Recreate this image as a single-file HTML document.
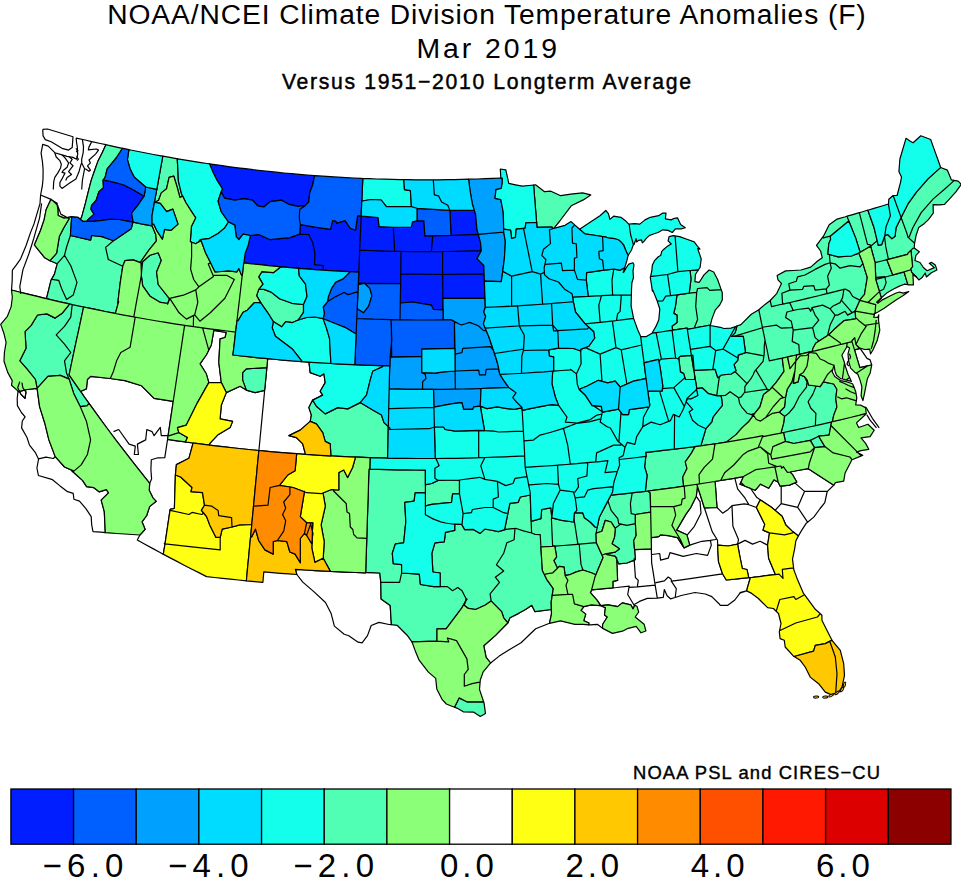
<!DOCTYPE html>
<html><head><meta charset="utf-8"><title>NOAA/NCEI Climate Division Temperature Anomalies</title>
<style>
html,body{margin:0;padding:0;background:#fff;}
svg{display:block;}
text{font-family:"Liberation Sans",sans-serif;fill:#000;}
</style></head><body>
<svg width="961" height="879" viewBox="0 0 961 879">
<rect width="961" height="879" fill="#fff"/>
<text x="107.2" y="24.4" font-size="28.2" textLength="758.5" lengthAdjust="spacing">NOAA/NCEI Climate Division Temperature Anomalies (F)</text>
<text x="416.4" y="58.3" font-size="28.4" textLength="140.6" lengthAdjust="spacing">Mar 2019</text>
<text x="282" y="88.6" font-size="21.2" textLength="409" lengthAdjust="spacing" stroke="#000" stroke-width="0.45">Versus 1951−2010 Longterm Average</text>
<g stroke="#000" stroke-width="1.2" stroke-linejoin="round"><path fill="#ffffff" d="M42.7 144.4L41.1 153.2L42.5 162.1L43.1 169.5L43.0 179.2L42.3 186.2L40.6 195.0L50.4 199.1L50.9 199.4L51.0 199.1L52.4 200.4L56.9 203.2L57.1 204.9L57.7 205.4L60.8 214.1L67.2 217.6L71.1 216.9L71.7 216.9L77.8 217.3L80.2 219.2L81.6 217.4L85.4 203.3L88.5 190.8L91.2 180.4L94.1 172.0L97.8 161.6L102.0 153.3L105.9 144.7L100.3 143.5L92.8 141.8L85.2 140.0L76.2 138.1L76.5 142.1L77.3 146.8L77.5 150.3L77.7 150.5L77.5 150.7L77.7 154.1L77.1 157.1L76.6 159.2L73.0 157.4L67.1 156.3L62.0 154.9L54.8 152.7L48.2 146.1ZM57.1 204.9L57.9 209.4L58.1 215.5L64.1 218.1L67.2 217.6L60.8 214.1L57.7 205.4ZM50.0 260.7L44.8 257.8L38.5 250.1L34.4 244.9L40.6 230.3L44.1 219.9L46.2 209.5L50.9 199.4L50.4 199.1L40.6 195.0L40.0 203.7L37.3 212.7L34.0 223.9L30.5 232.6L26.0 245.8L20.6 258.8L16.4 264.9L12.4 270.1L12.3 272.8L12.2 280.6L11.5 290.0L19.2 292.0L20.6 292.3L27.8 294.1L36.3 296.2L44.9 298.3L46.5 298.7L46.8 297.4L51.0 280.3L51.7 279.1L54.5 274.1L57.3 263.7L52.6 261.8ZM18.0 391.6L17.2 398.5L17.4 405.6L21.4 412.5L25.1 416.9L22.3 421.0L21.6 427.9L27.0 437.5L29.5 445.1L35.2 452.3L38.5 458.9L46.0 457.1L53.3 458.5L55.3 456.7L55.2 456.6L48.9 439.9L44.8 423.2L39.6 406.6L37.1 388.3L27.1 389.5L24.6 390.1L26.0 392.0L25.0 398.3L20.8 394.1L19.4 391.3ZM38.5 458.9L38.6 459.0L36.9 468.0L38.4 475.5L52.5 479.7L60.0 485.9L67.6 491.7L73.2 493.3L73.9 499.3L79.5 501.1L85.9 508.6L91.2 516.7L91.7 525.0L93.0 531.6L100.9 532.2L105.3 532.6L104.3 511.6L101.2 500.2L108.5 492.9L106.4 489.7L99.1 491.8L93.9 487.7L86.6 486.6L82.5 480.4L72.0 471.0L72.3 470.4L64.5 467.0L55.3 456.7L53.3 458.5L46.0 457.1ZM24.6 390.1L19.4 391.3L20.8 394.1L25.0 398.3L26.0 392.0ZM139.9 535.0L137.3 540.0L144.9 544.2L152.5 548.4L160.1 552.5L163.1 554.1L163.5 553.2L165.0 543.8L164.2 543.7L165.0 543.8L170.0 510.3L170.2 509.3L174.4 508.3L175.4 475.0L176.4 464.6L188.9 458.3L193.1 443.0L186.6 442.1L185.4 441.9L177.1 440.8L167.6 439.4L166.6 445.6L164.8 457.6L158.0 457.8L151.3 459.8L150.9 469.5L151.6 478.9L149.7 483.3L149.2 490.2L152.9 497.8L156.2 501.3L149.6 506.6L146.7 515.5L142.0 521.8L145.1 529.3ZM296.8 574.5L302.8 582.1L314.1 591.9L325.5 602.5L331.0 613.2L334.4 626.1L344.2 634.3L348.8 635.8L358.1 642.2L362.1 642.9L367.5 635.6L371.2 625.5L379.0 622.4L389.0 624.5L391.4 624.7L390.2 605.5L381.1 599.0L380.8 582.9L380.8 582.4L379.8 573.0L365.7 572.4L365.6 572.9L365.3 572.9L355.3 572.5L345.3 572.1L335.3 571.7L330.4 571.4L325.3 571.2L315.4 570.6L305.4 570.0L295.4 569.3ZM490.6 663.0L499.2 656.1L509.2 649.8L521.1 642.8L529.9 634.2L535.7 628.7L549.5 623.3L551.5 613.8L551.4 609.5L551.3 609.5L534.9 611.6L531.8 605.3L525.5 609.5L518.2 613.6L509.9 617.8L507.9 622.8L507.8 623.0L507.8 622.9L507.7 623.0L495.5 635.4L483.8 645.8L486.1 657.3ZM588.7 624.8L590.2 624.9L597.3 624.3L602.6 628.3L602.6 624.5L607.3 617.0L604.5 615.1L605.4 607.6L600.7 605.7L591.3 604.8L583.8 606.6L581.0 610.4L585.7 614.1L583.8 620.7L588.9 623.0ZM634.7 605.2L633.8 604.8L627.7 594.5L629.0 587.3L629.2 586.2L616.7 587.5L612.9 587.8L604.2 588.7L591.6 589.8L591.3 590.7L590.4 592.6L597.0 600.1L600.7 605.7L608.2 604.8L617.6 606.6L622.3 602.9L630.8 604.8L633.0 608.9ZM633.8 604.8L639.5 601.4L647.3 598.4L657.3 598.1L655.5 587.1L655.2 585.1L637.3 586.9L629.0 587.3L627.7 594.5ZM655.2 585.1L654.8 582.8L653.6 574.9L651.6 562.7L651.5 554.5L651.4 552.7L651.4 548.8L634.6 549.6L635.3 558.7L635.4 559.6L634.2 560.1L635.4 577.5L638.3 580.4L637.3 586.9ZM612.9 587.8L616.7 587.5L629.2 586.2L629.0 587.3L637.3 586.9L638.3 580.4L635.4 577.5L634.2 560.1L627.0 563.0L618.7 563.8L616.7 559.5L617.6 580.4L612.9 581.3ZM634.2 560.1L635.4 559.6L635.3 558.7L634.1 558.8ZM657.3 598.1L657.3 598.1L663.3 597.4L664.3 589.6L667.1 595.7L670.5 598.8L675.0 597.5L675.2 597.5L676.3 588.7L671.6 581.7L671.3 581.2L671.5 581.2L671.0 578.9L668.2 577.0L664.4 580.8L656.1 582.6L654.8 582.8L655.2 585.1L655.5 587.1ZM671.5 581.2L681.5 579.8L691.8 578.4L702.0 576.9L712.2 575.4L722.5 573.8L718.5 561.6L717.9 551.1L717.7 545.1L717.5 540.2L716.6 538.7L715.5 539.5L710.4 540.4L711.3 545.1L707.6 555.4L696.3 553.5L683.2 556.3L670.0 552.6L668.2 558.2L660.6 560.1L659.7 553.5L651.8 554.5L651.5 554.5L651.6 562.7L653.6 574.9L654.8 582.8L656.1 582.6L664.4 580.8L668.2 577.0L671.0 578.9ZM716.6 538.7L712.2 531.6L709.1 522.2L706.0 512.7L704.5 508.2L702.9 503.2L699.9 493.8L697.4 486.2L696.3 496.3L700.1 501.9L701.0 513.2L694.4 526.3L687.9 534.2L686.9 534.8L689.7 545.1L701.9 541.3L710.4 540.4L715.5 539.5ZM651.2 537.6L651.3 542.7L651.4 548.8L651.4 552.7L651.5 554.5L651.8 554.5L659.7 553.5L660.6 560.1L668.2 558.2L670.0 552.6L683.2 556.3L696.3 553.5L707.6 555.4L711.3 545.1L710.4 540.4L701.9 541.3L689.7 545.1L684.1 547.9L677.5 537.6L668.2 535.7L660.6 534.8L658.8 536.6L651.5 537.6ZM696.3 496.3L690.7 507.5L686.0 514.1L676.6 530.1L686.9 534.8L687.9 534.2L694.4 526.3L701.0 513.2L700.1 501.9ZM675.2 597.5L681.2 595.5L695.0 592.5L705.3 594.0L711.8 596.6L719.0 603.7L720.3 605.4L727.5 605.4L734.8 600.0L739.8 593.3L745.4 591.3L746.7 590.9L746.7 590.9L747.4 587.9L750.4 577.5L748.7 577.7L743.9 578.2L735.1 579.2L726.3 580.0L722.5 573.8L712.2 575.4L702.0 576.9L691.8 578.4L681.5 579.8L671.5 581.2L671.6 581.7L676.3 588.7ZM745.4 591.3L740.0 592.6L745.6 591.2ZM760.5 500.0L756.9 497.6L750.6 488.5L744.8 486.2L744.6 486.0L740.0 484.2L740.9 482.3L743.5 476.6L734.8 478.1L737.6 488.8L745.1 498.2L748.9 504.7L756.4 507.5L759.2 501.9ZM750.6 488.5L750.4 488.2L744.6 486.0L744.8 486.2ZM734.8 478.1L733.9 478.3L724.3 479.9L720.7 480.5L715.1 481.4L715.1 481.5L717.0 507.5L722.6 513.2L728.2 509.4L732.0 505.7L744.2 503.8L748.9 504.7L745.1 498.2L737.6 488.8ZM704.5 508.2L706.0 512.7L709.1 522.2L712.2 531.6L716.6 538.7L717.5 540.2L717.7 545.1L718.1 545.1L728.2 546.0L737.6 544.1L738.5 539.5L732.9 526.3L732.0 505.7L728.2 509.4L722.6 513.2L717.0 507.5L705.3 507.9ZM748.7 577.7L750.4 577.5L752.6 577.3L761.4 576.3L770.2 575.2L775.2 574.6L775.2 574.0L768.6 558.2L767.6 545.1L760.1 541.3L752.6 544.1L745.1 540.4L737.6 544.1L739.5 554.5L742.3 568.5L747.0 569.5ZM748.9 504.7L744.2 503.8L732.0 505.7L732.9 526.3L738.5 539.5L737.6 544.1L745.1 540.4L752.6 544.1L760.1 541.3L767.6 545.1L769.5 532.9L763.0 530.1L764.8 524.4L756.4 507.5ZM781.2 503.6L781.2 486.1L780.2 486.2L778.1 482.0L773.9 479.9L768.7 488.3L760.4 484.1L755.2 490.3L750.6 488.5L756.9 497.6L760.5 500.0L771.5 507.3L775.1 510.4ZM804.5 491.4L827.4 491.4L833.7 485.3L833.8 485.2L821.4 477.2L808.3 468.7L808.1 468.6L797.8 470.5L789.9 472.0L792.6 474.7L796.8 482.0L794.8 482.9ZM797.7 507.3L781.2 503.6L775.1 510.4L782.1 516.3L785.8 525.0L791.9 530.9L793.4 532.1L798.4 535.9L801.8 530.1L806.3 523.2L807.6 522.2ZM804.5 491.4L797.7 507.3L807.6 522.2L814.0 516.9L820.1 508.5L824.8 502.7L827.2 491.5L827.4 491.4ZM804.5 491.4L794.8 482.9L789.5 485.1L781.2 486.1L781.2 503.6L797.7 507.3ZM871.7 365.0L870.1 359.9L867.0 358.4L863.9 353.8L860.3 348.7L860.1 348.4L854.5 349.8L854.5 349.9L857.2 358.8L859.8 367.6ZM881.3 297.8L876.6 302.1L877.9 303.2L878.8 302.5L877.9 301.6L881.5 298.2ZM80.8 391.7L84.3 396.8L89.0 403.3L92.1 407.7L100.0 418.6L108.0 429.5L116.1 440.3L124.4 451.1L132.7 461.9L141.2 472.6L149.7 483.3L151.6 478.9L150.9 469.5L151.3 459.8L158.0 457.8L164.8 457.6L166.6 445.6L167.6 439.4L168.1 435.4L168.4 433.6L170.2 421.6L172.0 409.6L173.2 401.3L154.1 398.3L141.6 385.8L124.9 380.6L110.3 378.5L90.6 376.4L87.4 379.5L86.4 388.9L82.0 390.8ZM209.4 445.1L215.2 445.8L224.7 446.9L234.3 448.0L243.8 449.0L253.4 450.0L258.9 450.5L260.0 439.1L261.1 427.6L262.2 416.1L263.3 404.6L264.4 393.2L264.6 390.4L255.1 392.6L246.3 390.1L240.1 386.3L226.3 392.6L221.3 405.1L220.1 418.9L232.6 421.4L230.1 427.6L217.6 435.1L209.6 443.6ZM213.8 330.3L211.3 345.0L206.3 355.0L200.0 363.8L206.3 373.8L208.8 382.6L221.3 382.6L218.8 362.5L220.1 338.8L225.1 337.5L226.3 332.5ZM258.9 450.5L262.9 450.9L272.5 451.8L282.1 452.6L291.7 453.4L296.6 453.7L301.3 454.1L305.5 454.4L302.7 443.9L296.4 437.6L288.9 435.6L300.2 430.1L310.2 421.4L311.4 415.1L308.9 407.6L312.7 400.1L322.7 395.1L320.2 391.3L325.2 382.6L323.9 373.8L320.2 376.3L310.2 372.6L309.0 362.1L302.5 361.7L301.8 361.6L293.8 361.0L285.1 360.3L276.4 359.5L267.7 358.7L266.8 367.6L266.6 370.2L265.5 381.7L264.6 390.4L264.4 393.2L263.3 404.6L262.2 416.1L261.1 427.6L260.0 439.1Z"/><path fill="#50ffb4" d="M80.2 219.2L82.7 221.3L87.4 221.3L87.4 220.3L94.1 214.1L91.0 209.5L91.6 205.4L96.2 200.2L98.9 191.8L103.5 187.7L103.1 180.4L103.2 180.1L103.1 180.0L103.3 180.0L105.1 177.3L107.2 168.9L112.4 162.7L116.6 157.5L122.5 148.3L115.5 146.8L107.9 145.2L105.9 144.7L102.0 153.3L97.8 161.6L94.1 172.0L91.2 180.4L88.5 190.8L85.4 203.3L81.6 217.4ZM46.5 298.7L53.5 300.3L62.1 302.3L69.3 303.9L70.7 304.2L72.2 304.6L79.3 306.1L83.6 307.0L87.9 307.9L96.5 309.7L105.1 311.5L113.8 313.2L115.4 313.5L115.4 313.3L117.9 304.3L117.6 304.2L118.0 301.3L120.3 282.4L122.8 266.2L108.3 259.5L105.6 247.4L113.5 240.8L102.0 236.6L91.6 235.5L90.6 240.1L70.4 235.5L66.6 247.0L64.5 255.3L70.8 265.7L77.0 282.4L73.3 294.9L66.6 299.5L61.8 289.1L58.7 280.3L52.0 279.3L51.7 279.1L51.0 280.3L46.8 297.4ZM141.0 262.9L140.9 261.6L148.9 250.1L156.4 240.8L155.8 234.7L152.1 225.8L143.8 224.3L135.5 222.7L133.0 222.2L131.2 228.7L113.5 240.8L105.6 247.4L108.3 259.5L122.8 266.2L124.9 260.7L133.2 259.9ZM71.7 216.9L71.1 216.9L67.2 217.6L69.1 218.7L63.5 228.3L59.3 236.6L56.6 253.2L50.0 260.7L57.3 263.7L64.5 255.3L66.6 247.0L70.4 235.5ZM64.5 255.3L57.3 263.7L54.5 274.1L51.7 279.1L52.0 279.3L58.7 280.3L61.8 289.1L66.6 299.5L73.3 294.9L77.0 282.4L70.8 265.7ZM71.5 363.5L73.9 352.2L76.3 340.9L78.8 329.6L81.2 318.3L83.6 307.0L83.6 307.0L79.3 306.1L72.2 304.6L72.2 304.6L70.8 317.1L64.5 326.4L56.2 334.8L64.5 344.1L70.8 352.5L64.5 360.8L66.0 369.5L66.6 373.3L69.1 379.1L73.9 394.1L80.2 406.6L87.0 405.8L89.0 403.3L84.3 396.8L80.8 391.7L76.7 385.8L69.1 374.8L70.4 368.9ZM72.2 304.6L70.7 304.2L69.3 303.9L69.1 304.6L62.5 312.9L55.2 318.1L46.8 313.9L37.5 315.0L31.2 325.4L25.0 331.6L26.0 348.3L19.8 360.8L27.1 369.1L35.4 379.5L37.1 388.3L47.9 376.4L60.4 375.4L69.1 379.1L66.6 373.3L64.5 360.8L70.8 352.5L64.5 344.1L56.2 334.8L64.5 326.4L70.8 317.1L72.2 304.6ZM391.4 624.7L397.1 625.3L407.1 635.2L411.9 641.9L437.0 641.2L437.0 628.9L446.1 628.9L461.7 608.1L465.2 602.0L466.2 599.1L462.0 590.7L457.8 587.6L452.6 590.7L447.4 586.6L440.2 586.6L433.9 586.6L420.4 584.5L419.3 574.1L401.6 573.0L399.6 582.4L380.8 582.4L380.8 582.9L381.1 599.0L390.2 605.5ZM454.5 707.2L456.9 708.1L463.3 711.8L473.8 712.2L480.3 716.5L485.5 713.6L484.1 703.3L483.6 701.8L478.3 701.8L466.9 701.8L459.1 697.9ZM551.4 609.5L551.2 602.2L552.2 595.4L553.3 588.6L546.7 579.3L544.5 574.8L542.4 570.5L541.6 558.5L540.9 547.0L540.9 546.5L540.2 534.6L535.1 534.4L531.6 533.0L523.4 530.9L515.5 528.3L515.0 528.4L514.1 539.7L506.8 542.8L503.7 553.3L496.4 564.7L503.7 571.0L495.3 577.2L499.5 582.4L490.1 593.9L491.2 601.1L501.6 611.6L503.7 617.8L507.8 622.9L507.9 622.8L509.9 617.8L518.2 613.6L525.5 609.5L531.8 605.3L534.9 611.6L551.3 609.5ZM515.0 528.4L506.0 529.4L504.9 529.7L498.4 531.6L490.6 530.0L484.8 529.1L480.2 533.4L473.3 529.4L464.7 529.6L462.0 524.9L461.7 524.3L454.7 524.1L454.7 524.7L454.7 530.4L445.4 532.4L444.3 541.8L434.9 542.8L431.8 553.3L432.9 572.0L440.2 573.0L440.2 586.6L447.4 586.6L452.6 590.7L457.8 587.6L462.0 590.7L466.2 599.1L466.9 599.0L465.2 602.0L464.1 605.3L468.3 608.4L475.5 609.5L484.9 605.3L491.2 601.1L490.1 593.9L499.5 582.4L495.3 577.2L503.7 571.0L496.4 564.7L503.7 553.3L506.8 542.8L514.1 539.7ZM425.4 492.9L425.4 485.0L425.4 484.6L425.4 470.1L416.1 470.0L406.9 469.9L397.6 469.8L388.3 469.6L379.0 469.4L369.8 469.1L369.0 469.1L368.6 480.6L368.3 492.2L367.9 503.7L367.5 515.2L367.1 526.7L366.8 538.3L366.8 538.3L366.4 549.8L366.0 561.3L365.7 572.4L379.8 573.0L380.8 582.4L399.6 582.4L401.6 573.0L401.6 564.7L393.3 563.7L392.3 553.3L395.4 543.9L403.7 542.8L405.8 522.0L404.8 502.3L414.1 501.2L415.2 492.9ZM595.9 574.7L599.1 567.1L603.1 557.4L602.1 555.2L596.5 543.0L596.4 542.7L596.4 542.7L585.3 543.7L579.3 544.2L579.2 544.2L581.0 564.4L582.9 570.0L591.3 572.8L595.8 574.7ZM579.2 544.2L574.3 544.6L563.1 545.5L554.8 546.1L556.6 556.9L553.8 560.6L557.5 568.2L559.4 566.3L564.1 567.2L565.1 575.7L569.7 574.7L576.3 571.9L582.9 570.0L581.0 564.4ZM650.7 512.1L650.5 506.6L650.5 503.0L650.2 493.0L648.1 491.0L648.1 491.0L647.3 491.1L645.5 491.3L637.6 492.2L631.9 492.9L632.0 494.1L630.4 503.6L631.2 513.7L635.4 514.5ZM631.9 492.9L627.9 493.4L618.3 494.4L610.9 495.2L608.9 498.9L607.9 500.9L611.1 510.3L617.8 518.7L618.7 523.7L627.0 525.4L635.4 523.7L635.4 514.5L631.2 513.7L630.4 503.6L632.0 494.1ZM620.8 524.1L618.7 523.7L617.8 518.7L611.1 510.3L607.9 500.9L604.5 507.4L599.3 517.2L597.2 527.5L596.1 533.3L601.9 531.2L605.3 520.3L611.1 522.0L615.1 528.3ZM615.1 528.3L615.3 528.7L614.5 537.1L612.0 543.8L619.5 548.8L615.3 552.1L605.3 553.8L607.0 554.6L615.3 556.3L616.1 558.1L616.7 557.8L616.7 559.5L618.7 563.8L627.0 563.0L634.2 560.1L634.1 558.8L635.3 558.7L634.6 549.6L633.7 540.4L636.2 535.4L635.4 523.7L627.0 525.4L620.8 524.1ZM831.6 421.9L830.9 422.1L821.2 424.3L815.7 425.6L811.6 426.5L801.9 428.6L792.2 430.7L783.5 432.5L785.4 441.4L793.7 443.5L810.3 440.4L818.7 436.2L829.1 435.2ZM818.7 436.2L810.3 440.4L814.5 447.7L824.9 446.6ZM754.6 413.5L754.7 413.3L759.9 407.0L763.6 394.4L768.9 390.3L767.3 389.2L744.5 392.5L741.2 396.9L738.6 397.8L739.6 403.5L742.2 407.7L747.0 413.2L751.5 414.6ZM767.3 389.2L755.8 369.9L754.6 371.3L753.2 374.7L750.6 379.2L744.9 386.4L744.8 392.0L744.5 392.5ZM767.3 389.2L768.9 390.3L770.4 389.2L776.2 382.4L784.0 371.4L782.4 359.4L782.6 358.1L778.5 358.9L769.3 360.8L766.7 348.0L765.0 340.0L764.3 345.9L764.2 353.6L763.1 361.4L755.8 369.9ZM780.9 433.1L782.5 432.7L783.5 432.5L792.2 430.7L801.9 428.6L811.6 426.5L815.7 425.6L815.4 424.3L815.9 413.3L810.7 408.0L808.1 401.8L812.8 394.4L815.9 386.6L816.0 386.0L808.6 385.0L807.0 379.8L804.4 376.6L807.0 381.9L806.5 387.1L799.2 396.5L794.0 407.0L788.7 413.3L784.5 416.4L783.5 423.7ZM815.7 425.6L821.2 424.3L830.9 422.1L831.6 421.9L832.6 421.7L832.5 421.1L833.7 415.4L836.9 407.0L835.8 398.6L836.9 389.2L833.7 384.0L823.3 381.9L820.1 386.6L816.0 386.0L815.9 386.6L812.8 394.4L808.1 401.8L810.7 408.0L815.9 413.3L815.4 424.3ZM785.6 397.0L784.5 407.0L779.3 412.2L784.5 416.4L788.7 413.3L794.0 407.0L799.2 396.5L806.5 387.1L807.0 381.9L804.4 376.6L800.0 374.7L799.7 374.5L798.1 381.9L793.4 383.4L795.0 370.4L791.9 381.9L787.2 389.2ZM870.6 246.2L870.3 244.8L867.5 244.4L864.7 233.5L861.9 222.7L859.3 212.7L851.9 214.8L847.0 216.2L848.8 221.0L855.6 237.9L859.8 251.3L860.3 252.3L870.5 246.2ZM847.0 216.2L844.5 217.0L837.1 219.1L829.2 224.8L823.6 235.9L822.5 237.3L823.2 237.9L830.3 236.2L848.8 221.0ZM822.5 237.3L816.5 245.3L820.6 251.0L822.3 257.8L817.9 260.8L810.7 267.1L801.0 270.0L793.3 270.5L785.6 270.9L777.1 275.5L778.0 279.8L781.5 283.5L776.7 293.6L770.2 300.5L771.5 306.6L780.7 304.5L782.9 304.1L782.5 302.5L781.9 293.2L790.0 290.1L788.8 283.8L796.3 281.3L797.5 276.9L805.0 275.0L815.1 269.4L825.1 264.4L830.1 262.8L829.4 254.8L829.5 254.5L827.9 254.1L828.8 243.8L830.7 239.1L830.6 239.0L830.3 236.2L823.2 237.9ZM782.9 304.1L790.0 302.5L799.2 300.4L808.4 298.2L817.6 296.0L826.8 293.7L827.1 293.6L826.9 293.1L826.3 288.8L815.1 290.1L813.8 285.7L803.8 286.3L802.5 289.4L790.0 290.1L781.9 293.2L782.5 302.5ZM827.1 293.6L836.0 291.4L843.9 289.3L845.2 289.0L849.6 291.4L852.7 296.5L859.7 300.1L864.5 294.4L867.3 277.5L863.1 264.1L862.2 264.4L860.1 266.9L850.1 265.7L840.1 268.2L835.1 263.8L830.1 262.8L831.3 268.2L827.6 276.3L829.4 285.1L826.3 288.8L826.9 293.1ZM858.9 253.1L851.4 256.0L838.2 256.9L829.5 254.5L829.4 254.8L830.1 262.8L835.1 263.8L840.1 268.2L850.1 265.7L860.1 266.9L862.2 264.4L863.1 264.1L862.6 262.5ZM830.1 262.8L825.1 264.4L815.1 269.4L805.0 275.0L797.5 276.9L796.3 281.3L788.8 283.8L790.0 290.1L802.5 289.4L803.8 286.3L813.8 285.7L815.1 290.1L826.3 288.8L829.4 285.1L827.6 276.3L831.3 268.2ZM881.3 297.8L881.7 297.5L886.7 293.1L893.1 289.3L899.4 286.1L904.4 284.2L907.9 284.7L906.9 281.4L904.0 271.8L895.7 274.2L887.4 276.5L884.9 277.1L886.1 282.9L883.6 289.2L879.9 291.0L879.3 291.2ZM884.9 277.1L875.7 279.4L878.6 288.8L879.3 291.2L879.9 291.0L883.6 289.2L886.1 282.9ZM916.4 277.0L918.8 279.9L922.1 277.6L925.2 273.0L926.4 277.0L931.4 272.7L936.9 270.0L935.3 264.9L931.7 262.4L929.3 263.2L934.3 267.6L927.1 270.7L923.4 267.5L920.0 262.5L914.9 260.5L915.9 255.3L919.3 251.8L914.2 248.1L914.2 248.0L912.8 248.3L910.9 250.3L912.6 266.5L910.7 268.9L910.9 269.7L911.7 272.4ZM886.9 259.7L883.7 260.5L881.8 261.0L875.1 262.7L875.7 277.3L876.6 277.3L884.8 276.6L884.9 277.1L887.4 276.5L892.8 275.0ZM875.7 277.3L875.7 279.4L884.9 277.1L884.8 276.6L876.6 277.3ZM914.2 248.0L914.6 243.2L908.4 237.6L907.9 237.2L906.9 233.3L903.2 223.2L901.1 217.5L901.0 217.7L896.0 227.8L895.1 236.2L891.8 238.7L887.6 234.5L884.8 235.8L884.7 236.5L884.6 237.0L885.7 246.4L888.4 259.3L898.0 256.8L907.6 254.3L908.1 253.1L910.9 250.3L912.8 248.3ZM914.6 243.2L914.7 242.8L916.0 235.8L918.7 227.6L924.4 223.4L928.4 219.6L933.3 213.1L933.1 204.6L939.3 204.9L944.5 204.4L949.6 198.9L955.9 191.8L961.2 184.4L958.2 181.1L954.3 180.4L944.8 189.0L933.0 199.1L921.2 212.6L912.8 227.8L909.4 236.5L908.4 237.6ZM954.3 180.4L951.3 179.8L947.3 170.1L940.7 167.5L940.4 167.6L928.0 178.9L916.2 192.4L907.8 204.2L901.1 217.5L903.2 223.2L906.9 233.3L907.9 237.2L908.4 237.6L909.4 236.5L912.8 227.8L921.2 212.6L933.0 199.1L944.8 189.0ZM877.2 240.7L874.1 227.8L867.9 210.2L866.6 210.5L859.3 212.7L859.3 212.7L861.9 222.7L864.7 233.5L867.5 244.4L870.3 244.8L870.6 246.2L870.6 246.2ZM870.6 246.2L875.1 262.7L881.8 261.0L883.7 260.5L888.4 259.3L885.7 246.4L884.6 237.0L884.7 236.5L884.5 236.5L881.7 244.6L878.3 245.4L877.2 240.7ZM789.7 302.6L782.9 304.1L780.7 304.5L771.5 306.6L770.2 300.5L770.2 300.5L765.0 304.4L758.8 309.7L761.3 322.2L762.4 327.3L764.0 327.0L776.3 325.1L781.3 328.2L791.5 327.6L792.6 327.4L791.3 321.3L785.6 317.6L786.9 312.0L793.2 310.5ZM793.2 310.5L797.5 309.5L808.8 308.2L810.7 311.3L811.9 307.6L822.6 305.1L830.1 308.8L832.6 306.3L840.1 302.6L842.6 297.6L843.9 289.3L836.0 291.4L827.1 293.6L826.8 293.7L817.6 296.0L808.4 298.2L799.2 300.4L790.0 302.5L789.7 302.6ZM762.4 327.3L764.0 335.1L765.0 340.0L766.7 348.0L769.3 360.8L778.5 358.9L782.6 358.1L787.4 357.0L787.6 357.0L787.7 356.9L796.6 355.0L796.7 354.9L799.5 354.3L798.8 344.5L792.2 341.4L793.2 330.1L792.6 327.4L791.5 327.6L781.3 328.2L776.3 325.1L764.0 327.0ZM799.5 354.3L805.9 352.9L813.0 351.2L812.5 349.2L815.7 343.2L818.7 341.3L817.8 339.9L815.1 337.6L812.6 327.6L793.2 330.1L792.2 341.4L798.8 344.5ZM856.3 318.1L855.6 317.3L855.1 311.1L847.6 315.1L845.1 311.3L837.6 315.1L835.1 315.1L830.1 325.1L827.6 335.4L827.7 335.5L828.8 334.8L835.4 328.2L843.9 320.7L855.5 318.8ZM841.3 300.1L840.1 302.6L832.6 306.3L830.1 308.8L835.1 315.1L837.6 315.1L845.1 311.3L847.6 315.1L852.2 312.6ZM852.2 312.6L855.1 311.1L855.1 311.0L860.0 300.3L859.7 300.1L852.7 296.5L849.6 291.4L845.2 289.0L843.9 289.3L842.6 297.6L841.3 300.1ZM818.7 341.3L827.7 335.5L827.6 335.4L830.1 325.1L835.1 315.1L830.1 308.8L822.6 305.1L811.9 307.6L815.1 315.1L818.8 320.1L812.6 327.6L815.1 337.6L817.8 339.9ZM811.9 307.6L810.7 311.3L808.8 308.2L797.5 309.5L786.9 312.0L785.6 317.6L791.3 321.3L792.6 327.4L793.2 330.1L812.6 327.6L818.8 320.1L815.1 315.1ZM719.4 376.4L717.8 377.7L715.1 369.3L694.2 370.3L694.5 374.5L694.8 376.5L696.8 388.6L702.1 387.8L708.5 393.7L716.7 395.7ZM745.5 352.4L745.5 352.6L738.2 355.1L737.7 360.4L734.0 364.6L736.0 370.8L734.9 371.5L747.0 383.7L750.6 379.2L753.2 374.7L754.6 371.3L763.1 361.4L763.9 355.8ZM734.9 371.5L731.3 374.0L721.4 375.0L719.4 376.4L716.7 395.7L717.1 395.8L720.0 395.7L725.3 395.5L730.1 391.7L738.6 397.8L741.2 396.9L744.8 392.0L744.9 386.4L747.0 383.7ZM733.9 336.4L743.3 336.4L745.5 352.4L763.9 355.8L764.2 353.6L764.3 345.9L765.0 340.0L764.0 335.1L762.5 327.8ZM762.5 327.8L762.4 327.3L761.3 322.2L758.8 309.7L751.3 314.3L740.9 324.6L736.9 326.0L735.2 332.7L731.5 336.4L733.9 336.4ZM693.8 370.3L694.5 374.5L694.2 370.3ZM710.4 325.0L711.8 319.4L713.6 314.4L715.4 309.8L719.7 305.0L722.3 299.9L722.3 292.8L721.2 289.6L709.8 290.4L707.0 287.6L697.6 288.5L696.7 292.3L695.7 306.4L697.6 319.5L694.8 326.5L695.1 327.9L702.6 326.5L710.2 325.1ZM721.2 289.6L717.6 279.5L713.7 272.0L709.1 270.0L704.0 274.9L699.3 282.3L694.9 281.6L695.4 274.5L698.3 270.0L698.0 269.8L690.1 270.5L690.1 270.7L691.0 279.2L689.2 293.2L696.7 292.3L697.6 288.5L707.0 287.6L709.8 290.4ZM672.6 330.2L678.3 329.4L687.1 328.0L687.3 329.4L694.9 328.0L695.1 327.9L694.8 326.5L697.6 319.5L695.7 306.4L696.7 292.3L689.2 293.2L677.1 294.9L677.0 294.9L675.4 306.7L673.7 313.4L677.0 315.1L677.0 322.6L672.0 326.3ZM694.5 374.5L693.8 370.3L692.9 364.4L691.4 355.3L680.4 356.1L678.7 357.7L680.4 371.9L683.7 373.6L685.4 379.5L694.9 379.5ZM553.8 228.3L559.8 221.0L571.2 205.8L583.3 199.9L590.7 194.9L582.6 192.9L570.8 194.1L560.7 195.7L550.9 191.2L544.6 191.7L535.5 184.8L533.6 185.0L536.6 222.5L537.0 222.5L536.6 222.5L537.0 227.4L552.0 227.0L552.6 228.8ZM177.6 158.8L176.4 158.6L168.7 157.2L162.8 156.2L160.8 167.2L158.6 179.4L156.8 189.3L156.4 191.5L154.4 202.2L154.5 202.2L155.1 202.3L155.1 202.2L158.6 200.2L161.3 192.9L166.6 188.7L169.1 177.3L173.8 176.2L177.0 186.6L179.9 197.4L182.6 196.1L181.6 194.1L178.4 181.1L177.9 170.3L177.3 159.5ZM141.0 262.9L141.4 273.7L142.4 263.4ZM141.4 273.7L141.4 274.7L141.3 275.7L142.7 285.8L150.0 296.2L160.4 302.4L167.7 303.5L169.5 298.9L169.6 298.9L158.2 284.5L156.6 272.0L161.3 260.5L158.2 252.8L149.9 255.3L142.4 262.0L142.5 263.5L142.4 263.4ZM264.6 390.4L265.5 381.7L266.6 370.2L266.8 367.6L246.3 368.8L242.6 372.6L242.6 380.1L246.3 390.1L255.1 392.6ZM330.9 455.9L339.6 456.4L349.2 456.8L355.3 457.1L358.8 457.2L368.4 457.6L370.1 457.6L378.0 457.9L387.6 458.1L387.9 446.6L388.1 435.1L388.3 426.6L384.0 422.6L381.5 415.1L372.7 410.1L360.2 402.6L347.7 408.9L337.7 407.6L325.2 413.9L316.4 406.3L312.7 400.1L308.9 407.6L311.4 415.1L310.2 421.4L316.4 423.9L322.7 432.6L325.2 441.4L330.2 443.9ZM425.4 484.6L425.4 485.0L425.4 492.9L425.4 499.9L425.4 505.8L425.8 505.8L431.8 504.3L451.6 502.3L452.6 493.9L459.5 493.9L459.5 480.0L438.1 480.4L431.8 483.5L425.8 484.6ZM504.9 529.7L506.0 529.4L515.0 528.4L515.5 528.3L523.4 530.9L531.6 533.0L531.2 522.8L531.2 521.2L530.9 512.7L530.5 502.5L530.3 495.0L520.3 497.0L518.2 502.3L509.9 503.3L507.8 513.7L504.7 529.1ZM258.7 289.4L256.6 295.6L260.8 302.9L268.1 313.3L273.3 321.6L281.6 326.8L285.8 321.6L292.0 322.7L298.3 320.0L303.5 312.3L303.5 304.5L292.0 303.3L279.5 298.7L271.2 292.1L263.9 289.4ZM531.6 533.0L535.1 534.4L540.2 534.6L540.9 546.5L540.9 547.0L552.0 546.3L552.6 546.2L552.6 545.8L551.4 518.7L551.8 517.8L550.9 507.8L541.7 509.5L540.9 518.7L531.9 521.2L531.2 521.2L531.2 522.8ZM573.9 518.1L573.5 522.0L561.8 520.3L551.8 517.8L551.4 518.7L552.6 545.8L552.6 546.2L554.8 546.1L563.1 545.5L574.3 544.6L577.9 544.3ZM577.9 544.3L579.2 544.2L579.3 544.2L585.3 543.7L596.4 542.7L596.4 542.7L596.0 533.7L596.1 533.3L597.2 527.5L595.1 527.0L590.2 522.0L584.4 517.8L582.7 512.8L574.4 512.8L573.9 518.1ZM700.9 445.8L702.2 445.7L710.3 444.5L715.0 443.8L718.3 443.4L726.4 442.1L736.0 434.6L742.2 427.6L748.6 421.8L753.5 415.2L747.0 413.2L742.2 407.7L739.6 403.5L738.6 397.8L730.1 391.7L725.3 395.5L720.0 395.7L721.4 397.1L722.4 405.4L716.3 412.8L713.1 417.0L711.7 422.0L705.9 428.7L703.4 437.0L700.9 445.7ZM645.5 491.3L647.3 491.1L648.1 491.0L656.9 489.9L666.6 488.6L676.2 487.3L683.6 486.2L682.8 477.0L687.0 468.6L685.3 461.9L691.1 453.6L695.1 446.6L693.0 446.9L683.8 448.0L674.6 449.1L665.0 450.2L655.3 451.3L645.7 452.3L646.0 454.6L646.2 456.4L645.8 456.4L644.6 466.8L647.1 475.2L645.4 490.6Z"/><path fill="#001eff" d="M87.4 221.3L93.6 221.3L102.2 220.3L109.0 219.3L118.9 219.5L127.2 221.1L133.0 222.2L133.0 222.0L133.1 221.5L131.6 213.1L137.8 205.4L144.1 196.2L133.2 189.7L122.8 184.5L110.3 181.4L103.3 180.0L103.2 180.1L103.1 180.4L103.5 187.7L98.9 191.8L96.2 200.2L91.6 205.4L91.0 209.5L94.1 214.1L87.4 220.3ZM361.2 215.8L360.8 224.6L360.3 236.3L359.8 248.1L359.7 250.2L368.4 250.5L377.1 250.8L385.8 251.1L394.4 251.3L394.7 251.3L393.3 227.4L379.1 226.6L378.1 217.7L361.7 216.2L361.7 215.8ZM432.8 235.6L424.9 235.8L423.9 220.8L417.0 220.8L412.5 221.8L411.4 227.0L393.3 227.4L394.7 251.3L401.0 251.4L403.1 251.5L411.8 251.6L420.5 251.6L428.7 251.6L429.2 251.6L431.3 251.6ZM431.3 251.6L437.9 251.6L442.6 251.5L446.6 251.5L455.3 251.4L463.9 251.2L472.6 250.9L481.3 250.7L480.5 242.3L478.3 234.4L451.0 235.4L432.8 235.6ZM478.3 234.4L478.3 234.3L476.9 229.1L475.6 214.3L474.3 210.4L449.9 210.4L451.0 235.4ZM314.5 175.6L307.1 175.0L299.4 174.4L291.6 173.7L283.9 173.0L276.2 172.2L268.5 171.4L260.8 170.5L253.1 169.7L245.4 168.7L237.7 167.8L230.0 166.8L222.3 165.7L214.7 164.6L209.6 163.9L212.9 172.0L217.1 180.4L222.3 188.7L221.2 191.8L224.4 198.1L234.8 200.2L244.1 198.7L252.5 200.2L257.7 205.8L263.9 207.0L270.2 201.6L281.6 200.2L288.9 204.3L298.3 206.4L305.5 205.4L308.7 202.2L309.7 192.9L312.8 184.5L314.5 175.8ZM243.9 262.9L251.9 263.8L260.1 264.7L268.3 265.6L276.5 266.4L280.6 266.8L284.7 267.2L292.9 267.9L298.8 268.4L301.2 268.6L309.4 269.2L317.6 269.8L323.2 270.2L323.2 269.9L323.2 265.7L314.5 264.7L314.9 253.2L312.8 242.8L308.7 234.5L299.7 234.1L289.9 237.6L279.5 238.7L270.2 239.7L258.7 234.5L250.4 235.5L248.3 244.9L245.2 253.2ZM323.2 270.2L325.8 270.3L334.1 270.8L342.3 271.3L349.7 271.7L350.5 271.7L358.8 272.1L358.8 271.5L359.3 259.8L359.7 250.2L359.8 248.1L360.3 236.3L360.8 224.6L361.2 215.8L357.6 215.8L355.5 230.3L350.3 228.3L345.1 220.6L336.8 223.1L335.7 221.0L332.6 220.6L330.5 229.3L314.9 227.2L300.3 224.7L299.7 234.1L308.7 234.5L312.8 242.8L314.9 253.2L314.5 264.7L323.2 265.7L323.2 269.9ZM359.7 250.2L359.3 259.8L358.8 271.5L358.8 272.1L358.3 283.2L358.3 283.2L359.4 283.3L364.3 283.3L364.6 283.2L364.6 283.3L400.6 283.7L400.6 283.2L400.7 273.9L400.6 273.9L400.7 273.9L401.0 251.4L394.7 251.3L394.4 251.3L385.8 251.1L377.1 250.8L368.4 250.5ZM485.0 298.3L485.0 297.4L484.8 293.4L484.4 281.2L484.3 279.5L484.1 273.9L442.6 274.5L442.6 274.9L442.9 298.3ZM484.1 273.9L483.8 265.5L477.0 258.7L481.3 250.7L472.6 250.9L463.9 251.2L455.3 251.4L446.6 251.5L442.6 251.5L442.6 251.6L442.6 274.5ZM442.6 251.5L437.9 251.6L429.2 251.6L428.7 251.6L420.5 251.6L411.8 251.6L403.1 251.5L401.0 251.4L400.7 273.9L400.7 273.9L442.6 274.5L442.6 251.6ZM400.7 273.9L400.6 283.2L400.6 283.7L400.3 303.0L400.6 303.0L412.5 302.0L431.2 305.1L433.3 309.3L443.1 309.9L442.6 274.9L442.6 274.9L442.6 274.5Z"/><path fill="#00a0ff" d="M133.0 222.2L135.5 222.7L143.8 224.3L152.1 225.8L152.1 224.1L152.0 215.8L154.2 203.7L154.4 202.2L156.4 191.5L156.8 189.3L145.7 187.0L144.1 196.2L137.8 205.4L131.6 213.1L133.1 221.5L133.2 222.0L133.0 222.0ZM500.8 178.0L493.0 178.3L485.3 178.7L477.5 179.0L469.8 179.2L468.6 179.2L470.1 191.0L472.4 204.3L474.3 210.4L475.6 214.3L476.9 229.1L478.3 234.3L503.7 232.2L503.7 229.1L503.3 212.5L500.8 199.5L495.0 198.3L496.0 189.6L501.2 188.5L502.3 182.9L502.3 178.1ZM478.3 234.3L478.3 234.4L480.5 242.3L481.3 250.7L477.0 258.7L483.8 265.5L484.1 273.9L484.3 279.5L484.4 281.2L484.6 281.2L501.2 281.6L502.3 274.9L504.4 258.3L505.4 241.6L503.7 232.2ZM389.7 365.9L389.7 365.9L389.4 377.4L389.2 389.0L398.4 389.1L407.6 389.3L416.7 389.3L422.6 389.4L422.6 389.2L422.6 381.8L426.0 378.5L425.2 374.3L421.8 372.6L421.8 356.4L391.7 356.8L391.7 357.6L391.7 356.8L391.5 343.1L390.1 357.1L389.8 365.8ZM422.6 389.4L425.9 389.4L433.5 389.3L435.1 389.3L444.3 389.3L453.5 389.1L455.3 389.1L455.3 388.9L455.1 371.0L443.5 371.8L435.2 373.1L421.8 372.6L425.2 374.3L426.0 378.5L422.6 381.8L422.6 389.2ZM455.3 389.1L462.7 389.0L471.9 388.8L481.0 388.5L481.1 388.5L490.3 388.2L499.5 387.8L508.7 387.4L503.9 380.7L500.0 374.4L499.7 373.9L498.7 368.7L498.4 368.8L486.2 369.3L485.4 374.8L479.5 374.8L478.7 370.1L455.3 371.0L455.1 371.0L455.3 388.9ZM498.7 368.7L497.9 364.7L496.3 359.0L493.6 350.7L490.4 346.7L462.8 348.4L461.9 352.6L455.3 354.2L455.0 354.3L455.1 371.0L455.3 371.0L478.7 370.1L479.5 374.8L485.4 374.8L486.2 369.3L498.4 368.8ZM493.6 350.7L492.9 348.8L489.0 337.3L486.2 330.5L483.6 330.6L478.3 325.7L469.7 322.4L461.3 325.0L454.5 321.6L454.5 325.0L454.5 329.8L454.9 348.4L455.0 354.3L455.3 354.2L461.9 352.6L462.8 348.4L490.4 346.7ZM454.5 348.4L454.9 348.4L454.5 329.8ZM358.3 283.2L357.9 291.6L357.8 294.9L357.3 306.6L357.2 309.2L357.9 309.3L363.5 312.8L368.7 306.1L371.9 295.7L369.8 288.4L364.6 283.3L364.3 283.3L359.4 284.3L359.4 283.3ZM442.9 298.3L443.1 309.9L443.1 319.9L443.1 319.9L451.0 319.8L454.5 321.6L461.3 325.0L469.7 322.4L478.3 325.7L483.6 330.6L486.2 330.5L485.2 328.1L483.4 323.6L485.7 316.6L483.8 312.0L485.3 307.3L485.0 298.3ZM364.3 283.3L359.4 283.3L359.4 284.3ZM481.0 388.5L471.9 388.8L462.7 389.0L455.3 389.1L453.5 389.1L444.3 389.3L435.1 389.3L433.5 389.3L433.9 407.2L452.7 403.6L461.9 402.7L463.6 409.4L472.8 409.4L473.7 406.9L480.3 406.1L481.0 389.0Z"/><path fill="#14ffeb" d="M156.8 189.3L158.6 179.4L160.8 167.2L162.8 156.2L161.1 155.9L153.5 154.5L145.9 153.0L138.3 151.5L130.7 150.0L128.9 149.6L127.4 159.6L130.1 168.9L134.3 177.3L145.7 187.0ZM454.7 524.1L452.2 524.0L445.5 523.0L440.7 521.9L433.0 518.9L425.4 514.8L425.4 505.8L425.4 499.9L425.4 492.9L415.2 492.9L414.1 501.2L404.8 502.3L405.8 522.0L403.7 542.8L395.4 543.9L392.3 553.3L393.3 563.7L401.6 564.7L401.6 573.0L419.3 574.1L420.4 584.5L433.9 586.6L440.2 586.6L440.2 573.0L432.9 572.0L431.8 553.3L434.9 542.8L444.3 541.8L445.4 532.4L454.7 530.4L454.7 524.7ZM827.9 254.1L829.5 254.5L838.2 256.9L851.4 256.0L858.9 253.1L860.3 252.3L859.8 251.3L855.6 237.9L848.8 221.0L830.3 236.2L830.6 239.0L830.7 239.1L830.7 239.1L828.8 243.8ZM901.1 217.5L899.5 213.0L896.1 203.7L893.2 195.5L893.1 195.5L888.8 199.3L888.5 204.0L888.4 204.0L890.4 215.8L886.0 226.9L884.8 235.8L887.6 234.5L891.8 238.7L895.1 236.2L896.0 227.8L901.0 217.7ZM940.7 167.5L937.4 158.2L934.0 148.9L930.7 139.5L920.8 135.8L913.1 142.8L909.9 140.9L906.0 138.3L899.9 159.0L898.9 171.6L901.5 177.0L900.6 182.1L897.1 195.5L893.2 195.5L896.1 203.7L899.5 213.0L901.1 217.5L907.8 204.2L916.2 192.4L928.0 178.9L940.4 167.6ZM888.4 204.0L881.2 206.2L873.9 208.4L867.9 210.2L874.1 227.8L878.3 245.4L881.7 244.6L884.5 236.5L884.7 236.5L884.8 235.8L886.0 226.9L890.4 215.8ZM715.7 350.6L710.1 346.3L690.5 349.3L690.9 352.3L691.4 355.3L692.9 355.2L694.2 370.3L712.8 369.4ZM710.1 346.3L710.1 325.1L702.6 326.5L695.1 327.9L694.9 328.0L687.3 329.4L689.0 340.1L690.5 349.3ZM710.1 346.3L715.7 350.6L723.0 349.1L735.6 326.5L731.0 328.1L724.0 328.5L720.3 327.3L710.3 325.5L710.4 325.0L710.2 325.1L710.1 325.1ZM723.0 349.1L715.7 350.6L712.8 369.4L715.1 369.3L717.8 377.7L721.4 375.0L731.3 374.0L736.0 370.8L734.0 364.6L737.7 360.4L737.9 358.1ZM723.0 349.1L737.9 358.1L738.2 355.1L745.5 352.6L743.3 336.4L731.5 336.4L735.2 332.7L736.9 326.0L735.6 326.5ZM691.4 355.3L692.9 364.4L693.8 370.3L694.2 370.3L692.9 355.2ZM698.3 270.0L700.1 267.3L701.2 258.9L697.7 248.6L700.0 249.2L697.4 246.1L694.2 241.9L686.9 239.3L679.6 236.6L675.1 235.9L675.1 236.2L677.9 271.7L690.1 270.5L698.0 269.8ZM675.1 235.9L673.3 235.6L669.1 236.6L668.1 240.8L671.2 244.0L667.0 246.6L663.9 249.2L661.8 251.3L660.7 255.5L658.6 256.5L654.5 260.7L652.4 264.9L651.8 271.2L650.6 276.1L651.8 276.3L667.6 274.5L677.9 271.7L675.1 236.2ZM650.6 276.1L650.3 277.5L651.3 283.8L652.4 291.1L652.8 290.1L656.8 300.0L657.2 301.1L662.9 300.8L665.7 296.1L670.5 295.6L670.4 294.6L667.6 274.5L651.8 276.3ZM657.2 301.1L659.8 309.0L658.8 319.7L656.2 325.9L652.0 333.2L660.8 332.0L669.5 330.7L672.6 330.2L672.0 326.3L677.0 322.6L677.0 315.1L673.7 313.4L675.4 306.7L677.0 294.9L675.1 295.1L670.5 295.6L665.7 296.1L662.9 300.8ZM677.0 294.9L677.0 294.7L677.1 294.9L689.2 293.2L691.0 279.2L690.1 270.7L690.1 270.5L677.9 271.7L667.6 274.5L670.4 294.6L670.5 295.6L675.1 295.1ZM659.6 391.2L647.8 391.2L649.8 405.3L648.5 407.7L643.5 417.2L642.8 426.6L651.1 422.1L660.1 424.8L668.7 421.3ZM661.4 359.1L656.1 332.6L652.0 333.2L646.4 336.6L640.8 336.6L640.5 336.1L640.6 336.2L642.3 349.6L644.1 362.9L644.9 362.7L658.6 359.4L658.9 360.9ZM661.4 359.1L675.6 358.0L672.1 330.3L669.5 330.7L660.8 332.0L656.1 332.6ZM673.8 387.6L662.4 388.6L662.0 391.2L659.6 391.2L668.7 421.3L670.5 420.6L673.3 414.4L679.2 417.0L682.8 410.2L684.3 406.5ZM675.6 358.0L678.9 359.1L678.7 357.7L680.4 356.1L691.4 355.3L690.9 352.3L689.0 340.1L687.3 329.4L687.1 328.0L678.3 329.4L672.6 330.2L672.1 330.3ZM658.9 360.9L660.3 368.6L662.8 386.2L662.4 388.6L673.8 387.6L684.9 377.8L683.7 373.6L680.4 371.9L678.9 359.1L675.6 358.0L661.4 359.1ZM673.8 387.6L684.3 406.5L686.2 401.8L686.1 401.7L687.0 398.4L696.6 389.5L696.4 388.7L696.8 388.6L694.8 376.5L694.5 374.5L694.9 379.5L685.4 379.5L684.9 377.8ZM686.2 401.8L687.5 398.7L691.1 398.9L697.9 395.5L696.6 389.5L687.0 398.4L686.1 401.7ZM600.1 354.1L585.4 347.6L580.7 349.4L580.7 351.0L581.1 363.7L576.4 373.9L577.3 384.2L579.1 389.4L579.5 389.8L580.5 388.7L586.7 386.2L598.4 380.3L602.0 381.3ZM621.2 349.8L616.0 347.6L600.1 354.1L602.0 381.3L607.6 382.8L615.2 381.1L620.2 387.0L626.9 384.0ZM616.0 347.6L621.2 349.8L641.7 345.0L640.6 336.2L640.5 336.1L637.6 329.5L633.6 318.4L623.9 319.6L616.5 320.5L614.2 320.8L612.4 321.0ZM600.1 354.1L616.0 347.6L612.4 321.0L604.5 321.8L600.1 322.3L594.8 322.9L585.1 323.9L588.8 327.3L593.7 331.8L594.7 338.0L588.7 346.3L585.4 347.6ZM621.2 349.8L626.9 384.0L633.5 381.1L645.6 378.6L646.1 378.6L645.8 376.5L644.1 363.1L644.1 362.9L642.3 349.6L641.7 345.0ZM621.0 412.4L618.5 409.1L602.6 412.1L602.3 411.8L602.3 412.0L601.9 414.0L600.8 419.4L600.2 422.1L607.1 426.8L610.4 428.0L617.8 441.1L618.9 442.1ZM618.9 442.1L621.5 444.3L625.0 447.3L627.2 442.4L634.9 444.3L636.7 436.6L642.8 426.6L643.5 417.2L648.5 407.7L647.3 407.1L629.4 409.6L628.5 414.6L622.7 414.6L621.0 412.4ZM633.6 318.4L631.1 305.9L631.4 295.1L630.4 295.1L621.3 295.1L621.3 295.3L620.1 311.4L617.6 313.9L616.5 320.5L623.9 319.6ZM631.4 295.1L631.5 289.4L631.9 282.7L633.5 277.5L633.0 271.2L634.0 264.9L633.0 262.8L628.8 264.1L626.4 267.5L623.9 272.0L623.2 272.5L624.7 267.8L620.1 270.1L613.8 269.1L612.0 280.1L612.6 295.1L621.3 295.1L630.4 295.1ZM572.6 297.0L573.3 301.7L575.5 312.0L585.1 323.9L594.8 322.9L600.1 322.3L600.1 321.6L598.8 305.1L601.3 296.3L601.3 295.7L588.2 296.3ZM600.1 322.3L604.5 321.8L614.2 320.8L616.5 320.5L617.6 313.9L620.1 311.4L621.3 295.3L621.3 295.1L612.6 295.1L612.0 295.1L601.3 295.7L601.3 296.3L598.8 305.1L600.1 321.6ZM603.8 270.1L586.6 272.6L586.3 280.1L588.2 296.3L601.3 295.7L612.0 295.1L612.6 295.1L612.0 280.1L613.8 269.1ZM628.1 255.5L631.4 250.3L633.3 244.8L633.6 244.7L633.2 243.8L630.7 235.0L629.5 227.0L629.2 224.0L628.8 224.1L625.1 220.4L620.9 217.3L613.6 216.2L609.9 219.4L608.4 213.6L605.8 210.5L600.0 215.7L590.5 222.0L579.6 229.3L584.9 233.9L592.5 235.0L600.0 236.1L602.6 236.5L604.2 236.6L609.4 238.2L614.7 238.7L618.3 239.8L620.9 241.9L623.6 245.0L625.7 250.3ZM633.6 244.7L634.0 244.5L636.1 238.7L636.6 241.9L638.7 240.3L641.4 239.8L642.4 242.9L644.0 241.4L646.1 238.7L649.2 235.6L653.4 234.0L658.1 232.5L662.8 229.8L668.1 230.4L672.3 232.5L675.4 228.8L681.7 228.8L685.3 227.7L680.6 224.6L677.5 217.8L674.3 218.3L671.2 219.9L665.4 218.8L666.0 213.1L662.8 213.1L658.6 215.7L650.3 217.3L645.0 219.9L639.8 224.1L634.6 223.6L629.2 224.0L629.5 227.0L630.7 235.0L633.2 243.8ZM533.6 185.0L528.9 185.5L522.3 186.2L515.5 184.8L508.8 183.4L505.8 169.9L500.3 169.0L500.8 178.0L500.8 178.0L502.3 178.1L502.3 182.9L501.2 188.5L496.0 189.6L495.0 198.3L500.8 199.5L503.3 212.5L503.7 229.1L503.7 229.1L510.6 230.2L511.6 238.5L515.4 237.4L516.2 229.1L525.2 228.1L525.8 222.9L536.6 222.5ZM403.8 179.7L400.0 179.6L392.3 179.4L384.5 179.2L376.8 179.0L369.0 178.7L362.8 178.5L362.3 189.1L361.8 201.0L361.8 201.0L362.5 201.0L370.8 199.5L381.2 200.0L386.4 206.6L411.4 206.6L410.4 190.6L404.5 189.6ZM209.6 163.9L207.0 163.5L199.3 162.3L191.7 161.1L184.0 159.9L177.6 158.8L177.3 159.5L177.9 170.3L178.4 181.1L181.6 194.1L182.6 196.1L185.9 202.7L191.4 211.4L195.7 217.8L191.4 226.5L190.3 241.6L191.6 242.2L195.7 243.8L198.5 242.1L200.4 239.7L208.7 238.7L218.1 233.5L224.4 228.3L228.5 222.0L221.2 211.6L218.1 201.2L221.2 191.8L222.3 188.7L217.1 180.4L212.9 172.0ZM382.8 365.7L381.0 365.7L372.2 365.4L363.5 365.1L354.8 364.7L346.0 364.3L337.3 363.9L330.9 363.5L328.6 363.4L319.9 362.9L311.2 362.3L309.0 362.1L310.2 372.6L320.2 376.3L323.9 373.8L325.2 382.6L320.2 391.3L322.7 395.1L312.7 400.1L316.4 406.3L325.2 413.9L337.7 407.6L347.7 408.9L360.2 402.6L366.5 395.1L370.2 380.1L372.7 371.3L382.8 366.6ZM387.6 458.1L378.0 457.9L370.1 457.6L370.1 457.6L369.8 469.1L379.0 469.4L388.3 469.6L397.6 469.8L406.9 469.9L416.1 470.0L425.4 470.1L425.4 484.6L425.8 484.6L431.8 483.5L438.1 480.4L434.9 478.3L434.9 468.3L439.1 465.8L436.0 458.5L435.2 458.5L426.8 458.5L417.0 458.5L407.2 458.4L397.4 458.3ZM425.4 505.8L425.4 514.8L433.0 518.9L440.7 521.9L445.5 523.0L452.2 524.0L454.7 524.1L461.7 524.3L462.0 524.9L463.1 513.7L459.5 493.9L452.6 493.9L451.6 502.3L431.8 504.3L425.8 505.8ZM462.0 524.9L464.7 529.6L473.3 529.4L480.2 533.4L484.8 529.1L490.6 530.0L498.4 531.6L504.9 529.7L504.7 529.1L507.8 513.7L503.7 512.7L493.2 507.5L484.9 507.5L472.4 509.5L471.4 512.7L463.1 513.7ZM530.3 495.0L530.2 492.4L528.7 485.1L527.7 479.9L527.0 476.6L527.0 476.6L515.1 478.3L513.0 483.5L505.7 485.6L497.4 481.4L498.4 497.0L493.2 499.1L493.2 507.5L503.7 512.7L507.8 513.7L509.9 503.3L518.2 502.3L520.3 497.0ZM527.0 476.6L525.2 467.3L524.6 455.8L514.8 456.3L505.0 456.8L495.2 457.2L485.5 457.5L484.9 457.6L480.8 465.8L484.9 479.4L497.4 481.4L505.7 485.6L513.0 483.5L515.1 478.3L527.0 476.6ZM484.9 457.6L478.7 457.7L475.7 457.8L465.9 458.1L456.1 458.3L446.3 458.4L436.6 458.5L436.0 458.5L439.1 465.8L434.9 468.3L434.9 478.3L438.1 480.4L459.5 480.0L479.7 477.3L484.9 479.4L480.8 465.8ZM459.5 480.0L459.5 493.9L463.1 513.7L471.4 512.7L472.4 509.5L484.9 507.5L493.2 507.5L493.2 499.1L498.4 497.0L497.4 481.4L484.9 479.4L479.7 477.3ZM301.8 361.6L302.5 361.7L309.0 362.1L311.2 362.3L319.9 362.9L328.6 363.4L330.9 363.5L330.9 363.3L329.5 338.3L326.4 327.9L323.2 318.7L314.9 317.0L306.6 317.5L298.3 320.0L292.0 322.7L285.8 321.6L281.6 326.8L273.3 321.6L272.2 327.9L275.4 336.2L283.7 342.4L292.0 348.7L296.2 353.9L301.8 361.2ZM298.8 268.4L292.9 267.9L284.7 267.2L280.6 266.8L280.6 267.1L273.3 272.7L261.8 271.7L258.7 276.9L262.9 284.1L258.7 289.4L263.9 289.4L271.2 292.1L279.5 298.7L292.0 303.3L303.5 304.5L307.0 296.6L305.5 284.1L299.3 275.8L298.7 269.6ZM435.2 458.5L436.0 458.5L436.6 458.5L446.3 458.4L456.1 458.3L465.9 458.1L475.7 457.8L478.7 457.7L478.7 457.4L478.7 430.3L455.3 431.2L445.2 429.5L443.5 427.0L434.4 427.0L435.2 458.4ZM478.7 457.7L484.9 457.6L485.5 457.5L495.2 457.2L505.0 456.8L514.8 456.3L524.6 455.8L524.7 455.8L524.7 455.8L524.1 443.7L523.9 440.9L523.4 431.6L523.4 431.2L523.3 431.2L498.7 432.0L493.7 431.2L484.5 430.7L478.7 430.3L478.7 457.4ZM523.4 431.2L522.7 419.5L522.2 410.4L522.0 407.8L513.8 409.4L507.1 408.6L497.1 406.9L487.0 408.6L480.3 406.1L484.5 430.3L484.5 430.7L493.7 431.2L498.7 432.0L523.3 431.2ZM597.2 527.5L599.3 517.2L604.5 507.4L607.9 500.9L608.9 498.9L610.9 495.2L612.6 492.0L613.2 487.1L611.5 486.9L593.6 488.6L587.7 490.2L584.4 496.9L575.2 497.8L576.9 510.3L574.4 512.8L582.7 512.8L584.4 517.8L590.2 522.0L595.1 527.0ZM613.2 487.1L613.9 482.1L617.4 471.3L605.0 472.6L607.9 460.7L597.6 461.8L595.7 461.9L587.6 462.7L587.7 464.0L586.9 476.0L577.7 478.5L578.5 486.9L575.2 491.9L573.6 492.4L575.2 497.8L584.4 496.9L587.7 490.2L593.6 488.6L611.5 486.9ZM587.6 462.7L587.2 462.7L576.9 463.7L570.2 464.2L566.6 464.5L557.6 465.2L557.6 466.2L558.5 484.4L560.1 490.2L573.5 491.9L573.6 492.4L575.2 491.9L578.5 486.9L577.7 478.5L586.9 476.0L587.7 464.0ZM557.6 465.2L556.2 465.3L545.9 466.0L535.5 466.7L525.2 467.3L527.0 476.6L527.7 479.9L528.7 485.1L529.7 484.9L546.8 483.5L558.5 484.4L557.6 466.2ZM528.7 485.1L530.2 492.4L530.3 495.0L530.5 502.5L530.9 512.7L531.2 521.2L531.9 521.2L540.9 518.7L541.7 509.5L550.9 507.8L551.8 517.8L553.4 503.6L560.1 490.2L558.5 484.4L546.8 483.5L529.7 484.9ZM551.8 517.8L561.8 520.3L573.5 522.0L574.4 512.8L576.9 510.3L575.2 497.8L573.6 492.4L573.5 491.9L560.1 490.2L553.4 503.6ZM524.7 455.8L524.6 455.8L525.2 467.3L535.5 466.7L545.9 466.0L556.2 465.3L557.6 465.2L566.6 464.5L570.2 464.2L570.2 463.5L567.7 445.1L563.5 428.4L550.1 432.5L540.1 435.1L533.4 440.1L523.9 440.9L524.1 443.7L524.7 455.8ZM570.2 464.2L576.9 463.7L587.2 462.7L587.6 462.7L595.7 461.9L596.6 452.9L613.7 445.1L620.8 445.1L621.5 444.3L617.8 441.1L610.4 428.0L607.1 426.8L600.2 422.1L600.8 419.4L599.4 419.2L590.2 421.7L576.9 423.3L563.5 428.4L567.7 445.1L570.2 463.5ZM595.7 461.9L597.6 461.8L607.9 460.7L605.0 472.6L617.4 471.3L619.6 465.3L619.2 459.5L619.1 457.7L623.2 455.6L625.0 447.3L621.5 444.3L620.8 445.1L613.7 445.1L596.6 452.9ZM600.8 419.4L601.9 414.0L596.2 415.4L590.4 419.6L577.0 423.0L565.3 422.1L567.0 417.1L558.6 405.4L551.9 404.6L546.9 405.4L530.2 408.7L522.3 410.4L522.2 410.4L522.7 419.5L523.4 431.2L523.4 431.6L523.9 440.9L533.4 440.1L540.1 435.1L550.1 432.5L563.5 428.4L576.9 423.3L590.2 421.7L599.4 419.2ZM601.9 414.0L602.3 412.0L602.3 411.8L593.4 405.7L592.2 405.6L584.9 394.7L579.5 389.8L579.1 389.4L577.3 384.2L576.4 373.9L570.5 369.3L570.6 369.8L561.7 370.5L553.6 371.2L552.9 371.2L552.7 371.2L552.7 371.3L551.9 383.7L555.3 397.0L558.6 405.4L567.0 417.1L565.3 422.1L577.0 423.0L590.4 419.6L596.2 415.4ZM602.3 411.8L601.3 406.3L593.4 405.7ZM553.6 371.2L561.7 370.5L570.6 369.8L570.5 369.3L576.4 373.9L581.1 363.7L580.7 351.0L580.7 351.0L573.7 348.5L558.6 348.2L558.6 348.2L558.6 348.5L558.5 348.2L548.6 349.9L549.4 356.1L553.6 356.9ZM674.6 414.9L673.3 414.4L670.5 420.6L660.1 424.8L651.1 422.1L642.8 426.6L636.7 436.6L634.9 444.3L627.2 442.4L625.0 447.3L623.2 455.6L619.1 457.7L619.2 459.5L619.3 459.5L628.3 458.5L637.2 457.5L645.8 456.4L646.0 454.6L645.7 452.3L655.3 451.3L665.0 450.2L674.3 449.1ZM674.3 449.1L674.6 449.1L683.8 448.0L693.0 446.9L695.1 446.6L700.9 445.8L700.9 445.7L703.4 437.0L705.9 428.7L698.4 425.3L692.5 420.3L689.2 411.9L689.1 411.9L689.2 411.9L692.8 409.3L686.2 401.8L682.8 410.2L679.2 417.0L674.6 414.9ZM720.0 395.7L717.1 395.8L708.5 393.7L702.1 387.8L696.8 388.6L696.4 388.7L696.6 389.5L697.9 395.5L691.1 398.9L687.5 398.7L686.2 401.8L692.8 409.3L689.2 411.9L689.2 411.9L692.5 420.3L698.4 425.3L705.9 428.7L711.7 422.0L713.1 417.0L716.3 412.8L722.4 405.4L721.4 397.1ZM619.2 459.5L619.6 465.3L617.4 471.3L613.9 482.1L613.2 487.1L612.6 492.0L610.9 495.2L618.3 494.4L627.9 493.4L631.9 492.9L637.6 492.2L645.5 491.3L645.4 490.6L647.1 475.2L644.6 466.8L645.8 456.4L637.2 457.5L628.3 458.5L619.3 459.5Z"/><path fill="#0060ff" d="M128.9 149.6L123.1 148.4L122.5 148.3L116.6 157.5L112.4 162.7L107.2 168.9L105.1 177.3L103.3 180.0L110.3 181.4L122.8 184.5L133.2 189.7L144.1 196.2L145.7 187.0L134.3 177.3L130.1 168.9L127.4 159.6ZM133.0 222.2L127.2 221.1L118.9 219.5L109.0 219.3L102.2 220.3L93.6 221.3L87.4 221.3L82.7 221.3L80.2 219.2L77.8 217.3L71.7 216.9L70.4 235.5L90.6 240.1L91.6 235.5L102.0 236.6L113.5 240.8L131.2 228.7ZM417.0 208.3L417.0 220.8L423.9 220.8L424.9 235.8L451.0 235.4L449.9 210.4ZM362.8 178.5L361.3 178.4L353.5 178.0L345.8 177.6L338.0 177.2L330.3 176.7L322.6 176.2L314.8 175.6L314.5 175.6L314.5 175.8L312.8 184.5L309.7 192.9L308.7 202.2L305.5 205.4L299.7 209.5L299.3 217.8L300.3 224.7L314.9 227.2L330.5 229.3L332.6 220.6L335.7 221.0L336.8 223.1L345.1 220.6L350.3 228.3L355.5 230.3L357.6 215.8L361.2 215.8L361.3 212.8L361.8 201.0L361.8 201.0L362.3 189.1ZM305.5 205.4L298.3 206.4L288.9 204.3L281.6 200.2L270.2 201.6L263.9 207.0L257.7 205.8L252.5 200.2L244.1 198.7L234.8 200.2L224.4 198.1L221.2 191.8L218.1 201.2L221.2 211.6L228.5 222.0L234.8 225.1L236.2 236.6L238.9 239.7L243.1 234.1L250.4 235.5L258.7 234.5L270.2 239.7L279.5 238.7L289.9 237.6L299.7 234.1L300.3 224.7L299.3 217.8L299.7 209.5ZM356.1 334.1L356.3 329.9L356.8 318.5L356.8 318.2L357.2 309.2L357.3 306.6L357.8 294.9L357.9 291.6L348.2 294.6L344.1 292.5L335.7 296.6L327.4 301.8L323.2 307.0L324.3 313.3L323.2 318.7L335.7 323.7L346.1 327.9ZM357.9 291.6L358.3 283.2L358.3 283.2L358.8 272.1L350.5 271.7L349.7 271.7L349.7 272.3L343.0 278.9L335.7 282.1L331.6 288.3L328.4 296.6L327.4 301.8L335.7 296.6L344.1 292.5L348.2 294.6ZM354.8 364.7L363.5 365.1L372.2 365.4L381.0 365.7L382.8 365.7L389.7 365.9L389.8 365.8L390.1 357.1L391.5 343.1L391.4 330.0L391.4 329.5L391.1 323.3L391.0 319.6L382.4 319.4L373.9 319.2L365.3 318.8L356.8 318.5L356.3 329.9L356.1 334.1L355.8 341.5L355.3 353.1ZM454.5 321.6L451.0 319.8L443.1 319.9L442.4 319.9L433.8 320.0L425.3 320.0L416.7 320.0L408.1 319.9L400.0 319.8L399.6 319.8L391.0 319.6L391.0 319.6L391.1 323.3L391.4 323.3L391.4 329.5L391.8 340.3L391.5 343.1L391.7 356.8L391.7 356.8L421.8 356.4L421.8 349.2L454.4 348.4L454.5 348.4L454.5 329.8L454.4 325.0L454.5 325.0ZM391.4 329.5L391.4 323.3L391.1 323.3ZM391.4 329.5L391.4 330.0L391.5 343.1L391.8 340.3ZM357.2 309.2L356.8 318.2L356.8 318.5L365.3 318.8L373.9 319.2L382.4 319.4L391.0 319.6L391.0 319.6L399.6 319.8L400.0 319.8L400.3 303.0L400.6 283.7L364.6 283.3L369.8 288.4L371.9 295.7L368.7 306.1L363.5 312.8L357.9 309.3ZM400.0 319.8L408.1 319.9L416.7 320.0L425.3 320.0L433.8 320.0L442.4 319.9L443.1 319.9L443.1 319.9L443.1 309.9L433.3 309.3L431.2 305.1L412.5 302.0L400.6 303.0L400.3 303.0Z"/><path fill="#8cff78" d="M115.4 313.5L122.4 314.8L131.1 316.4L133.8 316.9L136.3 302.9L138.9 288.8L141.3 275.7L141.2 275.4L141.4 273.7L141.0 262.9L133.2 259.9L124.9 260.7L122.8 266.2L120.3 282.4L118.0 301.3L118.7 301.4L117.9 304.3L115.4 313.3ZM67.2 217.6L64.1 218.1L58.1 215.5L57.9 209.4L57.1 204.9L52.4 200.4L50.9 199.4L46.2 209.5L44.1 219.9L40.6 230.3L34.4 244.9L38.5 250.1L44.8 257.8L50.0 260.7L56.6 253.2L59.3 236.6L63.5 228.3L69.1 218.7ZM57.1 204.9L56.9 203.2L52.4 200.4ZM118.0 301.3L117.6 304.2L117.9 304.3L118.7 301.4ZM11.5 290.0L11.5 290.0L12.3 297.3L11.2 306.6L7.4 316.3L0.7 324.4L3.9 333.3L6.1 342.3L4.4 352.5L4.0 361.2L7.7 372.4L12.2 380.6L11.5 385.2L18.1 391.1L18.0 391.6L19.4 391.3L24.6 390.1L27.1 389.5L37.1 388.3L35.4 379.5L27.1 369.1L19.8 360.8L26.0 348.3L25.0 331.6L31.2 325.4L37.5 315.0L46.8 313.9L55.2 318.1L62.5 312.9L69.1 304.6L69.3 303.9L62.1 302.3L53.5 300.3L46.5 298.7L44.9 298.3L36.3 296.2L27.8 294.1L20.6 292.3L19.2 292.0ZM105.3 532.6L108.7 532.9L116.5 533.5L124.3 534.0L132.1 534.5L139.9 535.0L145.1 529.3L142.0 521.8L146.7 515.5L149.6 506.6L156.2 501.3L152.9 497.8L149.2 490.2L149.7 483.3L141.2 472.6L132.7 461.9L124.4 451.1L116.1 440.3L108.0 429.5L100.0 418.6L92.1 407.7L89.0 403.3L87.0 405.8L80.2 406.6L86.4 421.2L90.6 439.9L87.4 454.5L81.2 464.9L73.9 471.1L72.3 470.4L72.0 471.0L82.5 480.4L86.6 486.6L93.9 487.7L99.1 491.8L106.4 489.7L108.5 492.9L101.2 500.2L104.3 511.6ZM69.1 379.1L60.4 375.4L47.9 376.4L37.1 388.3L39.6 406.6L44.8 423.2L48.9 439.9L55.2 456.6L55.3 456.7L64.5 467.0L72.3 470.4L73.9 471.1L81.2 464.9L87.4 454.5L90.6 439.9L86.4 421.2L80.2 406.6L73.9 394.1ZM330.4 571.4L335.3 571.7L345.3 572.1L355.3 572.5L365.3 572.9L365.6 572.9L365.7 572.4L366.0 561.3L366.4 549.8L366.8 538.3L366.7 538.3L357.0 537.8L353.7 534.5L352.8 529.5L350.3 527.0L349.5 513.6L347.0 511.9L346.2 503.5L333.6 491.0L333.7 489.7L331.5 489.5L322.8 493.0L323.2 494.1L325.3 506.2L321.1 524.9L324.2 541.6L323.2 558.2ZM366.8 538.3L366.8 538.3L367.1 526.7L367.5 515.2L367.9 503.7L368.3 492.2L368.6 480.6L369.0 469.1L369.8 469.1L370.1 457.6L370.1 457.6L368.4 457.6L358.8 457.2L355.3 457.1L355.1 458.7L352.6 467.5L347.6 477.5L343.8 470.0L338.8 472.5L338.8 490.0L333.7 489.7L333.6 491.0L346.2 503.5L347.0 511.9L349.5 513.6L350.3 527.0L352.8 529.5L353.7 534.5L357.0 537.8L366.7 538.3ZM466.9 658.9L456.5 640.6L447.4 638.0L448.7 641.9L437.0 641.2L411.9 641.9L412.1 642.2L415.1 650.4L419.1 660.2L428.4 672.1L435.7 678.4L436.8 688.9L442.1 699.4L442.3 699.6L446.3 704.0L454.5 707.2L459.1 697.9L466.9 701.8L478.3 701.8L483.6 701.8L479.5 689.4L480.1 682.4L478.3 682.3L472.1 683.6L464.3 686.2L464.3 674.5L468.2 669.3L467.4 663.3ZM480.1 682.4L480.3 680.0L483.2 671.8L490.2 663.4L490.6 663.0L486.1 657.3L483.8 645.8L495.5 635.4L507.7 623.0L507.8 622.9L503.7 617.8L501.6 611.6L491.2 601.1L484.9 605.3L475.5 609.5L468.3 608.4L464.1 605.3L465.2 602.0L461.7 608.1L446.1 628.9L437.0 628.9L437.0 641.2L448.7 641.9L447.4 638.0L456.5 640.6L466.9 658.9L468.2 669.3L464.3 674.5L464.3 686.2L472.1 683.6L478.3 682.3ZM466.2 599.1L465.2 602.0L466.9 599.0ZM549.5 623.3L560.5 620.9L574.9 624.3L583.0 624.3L588.7 624.8L588.9 623.0L583.8 620.7L585.7 614.1L581.0 610.4L583.8 606.6L574.4 603.8L572.6 594.4L567.9 594.4L552.2 595.4L551.2 602.2L551.4 609.5L551.5 613.8ZM602.6 628.3L602.7 628.4L612.4 633.4L622.4 631.2L628.2 628.3L636.2 626.3L641.0 632.8L645.9 631.0L644.1 624.2L635.2 617.0L638.7 612.0L637.0 606.3L634.7 605.2L633.0 608.9L630.8 604.8L622.3 602.9L617.6 606.6L608.2 604.8L600.7 605.7L605.4 607.6L604.5 615.1L607.3 617.0L602.6 624.5ZM591.6 589.8L595.0 576.8L595.9 574.7L595.8 574.7L591.3 572.8L582.9 570.0L576.3 571.9L569.7 574.7L565.1 575.7L567.9 580.4L566.0 585.1L567.9 594.4L572.6 594.4L574.4 603.8L583.8 606.6L591.3 604.8L600.7 605.7L597.0 600.1L590.4 592.6L591.3 590.7ZM554.8 546.1L552.6 546.2L552.0 546.3L540.9 547.0L541.6 558.5L542.4 570.5L544.5 574.8L546.5 573.8L552.8 572.8L557.5 568.2L553.8 560.6L556.6 556.9ZM544.5 574.8L546.7 579.3L553.3 588.6L552.2 595.4L567.9 594.4L566.0 585.1L567.9 580.4L565.1 575.7L564.1 567.2L559.4 566.3L557.5 568.2L552.8 572.8L546.5 573.8ZM651.4 548.8L651.3 542.7L651.2 537.6L651.1 532.8L650.9 522.8L650.7 512.9L650.7 512.1L635.4 514.5L635.4 523.7L636.2 535.4L633.7 540.4L634.6 549.6ZM596.1 533.3L596.0 533.7L596.4 542.7L596.5 543.0L602.1 555.2L605.3 553.8L615.3 552.1L619.5 548.8L612.0 543.8L614.5 537.1L615.3 528.7L611.1 522.0L605.3 520.3L601.9 531.2ZM602.1 555.2L603.1 557.4L599.1 567.1L595.9 574.7L595.0 576.8L591.6 589.8L591.6 589.8L604.2 588.7L612.9 587.8L612.9 581.3L617.6 580.4L616.7 559.5L616.1 558.1L615.3 556.3L607.0 554.6L605.3 553.8ZM697.4 486.2L696.8 484.3L696.8 484.3L695.5 484.5L685.8 485.9L684.2 486.1L685.1 498.2L682.2 499.1L681.3 504.7L673.8 506.6L675.7 515.1L671.9 525.4L680.4 539.5L684.1 547.9L689.7 545.1L686.9 534.8L676.6 530.1L686.0 514.1L690.7 507.5L696.3 496.3ZM684.2 486.1L683.6 486.2L676.2 487.3L666.6 488.6L656.9 489.9L648.1 491.0L648.1 491.0L650.2 493.0L650.5 503.0L650.5 506.6L673.8 506.6L681.3 504.7L682.2 499.1L685.1 498.2ZM650.5 506.6L650.7 512.1L650.7 512.9L650.9 522.8L651.1 532.8L651.2 537.6L651.5 537.6L658.8 536.6L660.6 534.8L668.2 535.7L677.5 537.6L684.1 547.9L680.4 539.5L671.9 525.4L675.7 515.1L673.8 506.6ZM715.1 481.4L714.7 481.5L705.1 483.0L699.5 483.9L696.8 484.3L696.8 484.3L697.4 486.2L699.9 493.8L702.9 503.2L704.5 508.2L705.3 507.9L717.0 507.5L715.1 481.5ZM789.9 472.0L787.4 472.4L783.3 466.7L781.5 468.2L781.1 466.0L776.9 466.6L774.9 466.9L774.9 467.0L778.1 482.0L780.2 486.2L789.5 485.1L796.8 482.0L792.6 474.7ZM774.9 466.9L772.6 467.2L764.1 468.5L755.6 469.7L743.5 476.6L740.9 482.3L744.6 486.0L750.4 488.2L750.6 488.5L755.2 490.3L760.4 484.1L768.7 488.3L773.9 479.9L778.1 482.0L774.9 467.0ZM740.9 482.3L740.0 484.2L744.6 486.0ZM833.8 485.2L835.5 482.6L843.7 481.2L845.1 473.0L851.9 459.8L852.1 459.7L849.9 457.0L833.2 452.9L824.9 446.6L814.5 447.7L809.3 463.3L808.3 468.7L821.4 477.2ZM858.4 453.0L856.5 452.1L857.2 451.8L830.9 425.5L829.1 435.2L818.7 436.2L824.9 446.6L833.2 452.9L849.9 457.0L852.1 459.7L861.3 455.9ZM861.0 450.7L868.8 449.3L865.6 443.4L861.0 437.9L870.1 436.6L874.2 430.2L867.9 424.3L858.7 427.5L856.5 422.9L866.3 413.8L866.2 413.4L859.8 415.1L850.2 417.5L840.5 419.8L832.6 421.7L831.6 421.9L830.9 425.5L857.2 451.8ZM862.8 455.2L858.4 453.0L861.3 455.9ZM783.5 432.5L782.5 432.7L780.9 433.1L772.8 434.7L763.1 436.6L762.5 436.7L758.3 447.4L760.4 447.0L770.8 454.9L772.9 446.6L785.4 441.4ZM758.3 447.4L758.2 447.6L748.4 451.1L743.3 454.4L733.8 465.0L724.6 472.8L720.7 480.5L724.3 479.9L733.9 478.3L734.8 478.1L743.5 476.6L755.6 469.7L764.1 468.5L772.6 467.2L774.9 466.9L776.9 466.6L768.7 463.3L767.7 453.9L760.4 447.0ZM776.9 466.6L781.1 466.0L781.5 468.2L783.3 466.7L787.4 472.4L789.9 472.0L797.8 470.5L808.1 468.6L808.3 468.7L809.3 463.3L814.5 447.7L810.3 451.8L771.8 459.1L770.8 454.9L760.4 447.0L767.7 453.9L768.7 463.3ZM810.3 440.4L793.7 443.5L785.4 441.4L772.9 446.6L770.8 454.9L771.8 459.1L810.3 451.8L814.5 447.7ZM866.2 413.4L865.6 407.0L865.5 407.6L860.9 405.2L855.7 405.0L856.3 400.8L856.8 397.8L855.7 391.7L854.2 387.6L854.2 387.6L852.5 383.7L846.5 381.7L840.4 380.6L834.7 376.5L832.2 371.7L832.9 369.1L827.5 374.5L823.3 381.9L833.7 384.0L836.9 389.2L835.8 398.6L836.9 407.0L833.7 415.4L832.5 421.1L832.6 421.7L840.5 419.8L850.2 417.5L859.8 415.1ZM832.9 369.1L834.0 365.1L832.5 364.8L828.8 363.4L824.5 360.8L820.1 359.0L816.3 353.3L810.1 352.4L807.9 354.4L808.6 355.2L808.1 359.4L807.0 366.2L803.4 372.4L800.0 374.5L800.0 374.7L804.4 376.6L807.0 379.8L808.6 385.0L816.0 386.0L820.1 386.6L823.3 381.9L827.5 374.5ZM807.9 354.4L806.8 355.5L800.1 355.9L795.8 361.1L795.0 370.4L793.4 383.4L798.1 381.9L799.7 374.5L800.0 374.7L800.0 374.5L803.4 372.4L807.0 366.2L808.1 359.4L808.6 355.2ZM772.1 387.2L770.4 389.2L763.6 394.4L759.9 407.0L754.7 413.3L753.6 415.3L756.3 419.5L760.5 421.1L765.7 417.5L773.0 407.0L780.4 398.6L783.5 397.7ZM783.5 397.7L785.6 397.0L787.2 389.2L791.9 381.9L795.0 370.4L795.8 361.1L795.4 361.6L790.0 368.7L789.9 368.1L789.8 368.3L789.3 365.5L787.4 357.0L787.4 357.0L782.6 358.1L782.4 359.4L784.0 371.4L776.2 382.4L772.1 387.2ZM751.5 414.6L753.5 415.2L748.6 421.8L742.2 427.6L736.0 434.6L726.4 442.1L733.7 440.9L741.0 439.7L748.3 438.4L755.6 437.1L762.9 435.7L762.5 436.7L763.1 436.6L772.8 434.7L780.9 433.1L783.5 423.7L784.5 416.4L779.3 412.2L772.5 413.3L765.7 417.5L760.5 421.1L756.3 419.5L753.6 415.3L754.6 413.5ZM765.7 417.5L772.5 413.3L779.3 412.2L784.5 407.0L785.6 397.0L780.4 398.6L773.0 407.0ZM844.5 363.1L844.1 361.5L841.9 355.3L844.5 350.7L846.6 347.3L847.2 342.8L842.2 344.1L840.6 344.5L833.1 346.4L824.0 348.6L815.0 350.8L813.0 351.2L805.9 352.9L799.5 354.3L796.7 354.9L796.6 355.0L796.7 355.2L796.1 357.8L795.8 361.1L800.1 355.9L806.8 355.5L807.9 354.4L810.1 352.4L816.3 353.3L820.1 359.0L824.5 360.8L828.8 363.4L832.5 364.8L834.0 365.1L834.4 367.6L835.0 371.2L836.5 375.3L840.6 378.6L842.4 379.0ZM851.4 381.5L849.6 377.5L846.0 379.9ZM857.8 374.3L859.8 379.4L861.9 386.6L861.1 395.8L862.9 400.6L864.4 393.8L866.0 385.6L867.5 378.4L870.1 373.3L871.7 365.1L871.7 365.0L867.4 365.9L856.2 373.2ZM847.2 346.4L849.6 347.9L848.0 353.8L848.6 361.0L850.6 368.1L854.7 372.2L856.2 373.2L867.4 365.9L859.8 367.6L857.2 358.8L854.5 349.9L854.5 349.8L852.0 341.6L851.2 341.8L847.2 342.8L846.6 347.3ZM845.5 379.7L846.0 379.9L849.6 377.5L848.0 374.3L846.0 368.1L844.5 363.1L842.4 379.0ZM796.6 355.0L787.7 356.9L789.3 365.5L789.9 368.1L790.0 368.7L795.4 361.6L795.8 361.1L796.1 357.8L796.7 355.2ZM787.7 356.9L787.6 357.0L787.4 357.0L787.4 357.0L789.3 365.5ZM860.1 348.4L859.8 348.1L858.8 347.9L855.9 344.4L854.7 337.6L851.8 341.0L852.0 341.6L854.5 349.8ZM864.9 325.4L866.2 326.4L861.2 333.7L855.9 344.4L859.8 348.1L860.6 348.3L864.9 349.5L869.7 349.1L870.5 354.0L873.1 349.7L877.2 340.5L879.8 330.2L878.9 323.0ZM878.9 323.0L878.5 320.0L878.7 315.3L878.6 315.3L877.8 317.3L873.7 317.2L874.5 314.6L873.7 314.4L873.5 314.5L873.6 314.4L855.2 311.2L855.6 317.3L856.3 318.1L859.3 321.1L864.9 325.4ZM875.1 312.5L875.7 304.6L860.0 300.3L855.1 311.0L855.1 311.1L855.2 311.2L873.6 314.4ZM873.7 314.4L874.5 314.6L874.7 313.8ZM878.6 315.3L878.7 315.3L878.8 314.8ZM879.4 291.6L879.3 291.2L878.6 288.8L875.7 279.4L875.7 277.3L875.1 262.7L870.6 246.2L870.5 246.2L860.3 252.3L858.9 253.1L862.6 262.5L863.1 264.1L867.3 277.5L864.5 294.4L859.7 300.1L860.0 300.3L867.9 302.5ZM867.9 302.5L875.7 304.6L875.1 312.5L875.1 313.6L877.9 312.0L884.2 308.2L890.5 303.8L896.8 299.4L903.2 295.6L908.8 291.5L903.2 293.1L899.4 292.0L895.6 293.3L890.5 295.8L882.9 299.6L878.8 302.5L877.9 303.2L876.6 302.1L881.3 297.8L879.4 291.6ZM907.9 284.7L908.8 284.8L913.4 284.9L913.1 278.0L912.9 274.4L916.4 277.0L911.7 272.4L910.9 269.7L904.0 271.8L906.9 281.4ZM892.8 275.0L895.7 274.2L904.0 271.8L910.9 269.7L910.7 268.9L912.6 266.5L910.9 250.3L908.1 253.1L907.6 254.3L898.0 256.8L888.4 259.3L886.9 259.7ZM813.0 351.2L815.0 350.8L824.0 348.6L833.1 346.4L840.6 344.5L840.1 342.7L828.8 334.8L827.7 335.5L818.7 341.3L815.7 343.2L812.5 349.2ZM840.6 344.5L842.2 344.1L851.2 341.8L852.0 341.6L851.8 341.0L854.7 337.6L855.9 344.4L861.2 333.7L866.2 326.4L859.3 321.1L856.3 318.1L855.5 318.8L843.9 320.7L835.4 328.2L828.8 334.8L840.1 342.7ZM152.1 224.1L152.1 225.8L155.8 234.7L156.4 240.8L148.9 250.1L140.9 261.6L141.0 262.9L142.4 263.4L142.5 263.5L142.4 262.0L149.9 255.3L158.2 252.8L161.3 260.5L156.6 272.0L158.2 284.5L169.6 298.9L169.9 298.6L169.7 298.3L183.3 295.2L195.8 289.9L198.9 286.8L193.7 279.5L190.6 269.1L191.6 256.6L191.6 242.2L190.3 241.6L191.4 226.5L195.7 217.8L191.4 211.4L185.9 202.7L182.6 196.1L179.9 197.4L177.0 186.6L173.8 176.2L169.1 177.3L166.6 188.7L161.3 192.9L158.6 200.2L155.1 202.2L155.1 202.3L160.3 203.3L166.6 211.6L172.8 209.1L178.0 224.1L171.1 230.3L164.5 229.3L162.4 239.1L156.6 230.3L153.6 224.1ZM193.6 315.5L186.4 319.1L179.1 312.8L169.9 298.6L169.6 298.9L169.7 299.0L167.6 304.2L167.7 303.5L160.4 302.4L150.0 296.2L142.7 285.8L141.3 275.7L138.9 288.8L136.3 302.9L133.8 316.9L135.2 317.2L139.8 318.0L148.4 319.5L157.1 321.0L165.8 322.4L174.5 323.8L183.2 325.1L184.6 325.3L191.9 326.4L193.3 326.5ZM193.3 326.5L200.7 327.6L209.4 328.8L218.1 329.9L226.9 331.0L235.6 332.1L237.0 320.6L237.0 320.5L238.3 309.1L239.7 297.5L241.0 286.0L242.3 274.9L241.5 275.1L238.9 268.6L236.8 271.9L228.1 270.8L221.6 271.5L215.1 271.9L210.8 263.2L210.6 262.8L208.3 263.9L213.1 275.5L213.5 275.4L227.0 275.4L234.3 279.5L224.9 298.3L210.3 312.8L199.9 321.2L194.7 314.9L193.6 315.5ZM210.6 262.8L205.4 252.4L201.1 240.5L198.5 242.1L195.7 243.8L191.6 242.2L191.6 256.6L190.6 269.1L193.7 279.5L198.9 286.8L213.5 276.4L213.1 275.5L208.3 263.9ZM167.7 303.5L167.6 304.2L169.7 299.0L169.6 298.9L169.5 298.9ZM198.9 286.8L195.8 289.9L197.8 302.4L194.7 314.9L199.9 321.2L210.3 312.8L224.9 298.3L234.3 279.5L227.0 275.4L213.5 275.4L213.1 275.5L213.5 276.4ZM195.8 289.9L183.3 295.2L169.7 298.3L169.9 298.6L179.1 312.8L186.4 319.1L194.7 314.9L197.8 302.4ZM133.8 316.9L131.1 316.4L122.4 314.8L115.4 313.5L113.8 313.2L105.1 311.5L96.5 309.7L87.9 307.9L83.6 307.0L83.6 307.0L81.2 318.3L78.8 329.6L76.3 340.9L73.9 352.2L71.5 363.5L69.1 374.8L76.7 385.8L80.8 391.7L82.0 390.8L86.4 388.9L87.4 379.5L90.6 376.4L110.3 378.5L113.5 371.2L116.6 360.8L120.8 352.5L130.1 347.3L135.2 317.2ZM173.2 401.3L173.8 397.5L175.6 385.5L177.4 373.5L179.2 361.4L181.0 349.4L182.8 337.3L184.6 325.3L184.6 325.3L183.2 325.1L174.5 323.8L165.8 322.4L157.1 321.0L148.4 319.5L139.8 318.0L135.2 317.2L130.1 347.3L120.8 352.5L116.6 360.8L113.5 371.2L110.3 378.5L124.9 380.6L141.6 385.8L154.1 398.3ZM202.6 327.8L200.7 327.6L191.9 326.4L184.6 325.3L184.6 325.3L182.8 337.3L181.0 349.4L179.2 361.4L177.4 373.5L175.6 385.5L173.8 397.5L173.2 401.3L172.0 409.6L170.2 421.6L168.4 433.6L168.1 435.4L169.5 435.6L178.8 432.6L177.5 427.6L186.3 425.1L191.3 415.1L197.5 402.6L208.8 382.6L206.3 373.8L200.0 363.8L206.3 355.0L208.8 350.1ZM208.8 350.1L211.3 345.0L213.8 330.3L226.3 332.5L225.1 337.5L220.1 338.8L218.8 362.5L221.3 382.6L226.3 392.6L240.1 386.3L246.3 390.1L242.6 380.1L242.6 372.6L246.3 368.8L266.8 367.6L267.7 358.7L259.0 357.8L250.3 356.9L241.6 356.0L232.9 355.0L234.3 343.5L235.6 332.1L226.9 331.0L218.1 329.9L209.4 328.8L202.6 327.8ZM168.1 435.4L167.6 439.4L177.1 440.8L185.4 441.9L187.5 437.6L178.8 432.6L169.5 435.6ZM280.6 266.8L276.5 266.4L268.3 265.6L260.1 264.7L251.9 263.8L243.9 262.9L243.7 262.9L242.4 274.5L242.3 274.9L241.0 286.0L239.7 297.5L238.3 309.1L237.0 320.5L238.1 320.6L243.1 312.3L247.3 310.2L254.5 302.5L260.8 302.9L256.6 295.6L258.7 289.4L262.9 284.1L258.7 276.9L261.8 271.7L273.3 272.7L280.6 267.1ZM683.6 486.2L684.2 486.1L685.8 485.9L695.5 484.5L696.8 484.3L699.5 483.9L699.0 474.7L699.0 474.7L699.0 474.7L704.2 467.4L712.5 459.1L715.0 443.8L710.3 444.5L702.2 445.7L700.9 445.8L695.1 446.6L691.1 453.6L685.3 461.9L687.0 468.6L682.8 477.0ZM699.5 483.9L705.1 483.0L714.7 481.5L715.1 481.4L720.7 480.5L724.6 472.8L733.8 465.0L743.3 454.4L748.4 451.1L758.2 447.6L758.3 447.4L762.5 436.7L762.9 435.7L755.6 437.1L748.3 438.4L741.0 439.7L733.7 440.9L726.4 442.1L718.3 443.4L715.0 443.8L712.5 459.1L704.2 467.4L699.0 474.7L699.0 474.7Z"/><path fill="#ffff14" d="M163.1 554.1L167.8 556.6L175.5 560.6L183.2 564.7L191.0 568.7L198.8 572.6L206.6 576.6L214.5 577.5L222.5 578.4L230.4 579.2L238.4 580.0L246.4 580.8L247.4 569.6L248.6 557.6L249.7 545.7L250.6 536.9L250.9 533.8L251.8 524.5L239.9 524.9L232.0 527.0L222.2 529.1L220.2 537.4L220.2 549.9L192.0 546.8L165.0 543.8L165.0 543.8L163.5 553.2ZM175.4 475.0L174.4 508.3L170.2 509.3L170.0 510.3L170.4 510.4L188.9 514.5L192.0 512.4L201.8 514.5L203.6 513.0L201.4 510.4L204.5 505.2L202.5 492.7L191.0 491.6L192.0 487.5L180.6 477.0ZM170.0 510.3L165.0 543.8L192.0 546.8L220.2 549.9L220.2 537.4L216.0 537.4L209.7 524.9L206.6 516.6L203.6 513.0L201.8 514.5L192.0 512.4L188.9 514.5L170.4 510.4ZM355.3 457.1L349.2 456.8L339.6 456.4L330.9 455.9L330.0 455.9L320.4 455.3L310.8 454.7L305.5 454.4L301.3 454.1L296.6 453.7L296.6 454.4L295.1 470.8L287.8 475.0L279.5 485.4L289.9 487.0L293.0 487.5L304.3 491.8L304.5 491.2L304.4 491.8L306.6 492.7L321.1 493.7L322.8 493.0L331.5 489.5L333.7 489.7L338.8 490.0L338.8 472.5L343.8 470.0L347.6 477.5L352.6 467.5L355.1 458.7ZM322.8 493.0L321.1 493.7L306.6 492.7L304.4 491.8L302.4 504.1L300.3 516.6L306.6 522.8L312.8 522.8L312.4 531.6L312.8 533.3L312.1 540.7L311.8 547.8L314.9 562.4L323.2 558.2L324.2 541.6L321.1 524.9L325.3 506.2L323.2 494.1ZM746.7 590.9L751.7 593.4L758.4 598.5L767.6 607.7L773.4 608.5L775.9 611.0L776.5 610.4L779.8 599.5L793.9 596.7L795.8 599.5L804.5 594.7L803.5 593.4L797.7 580.1L795.2 573.4L793.8 569.7L793.6 567.9L782.3 569.3L783.0 578.4L779.0 574.2L775.2 574.6L770.2 575.2L761.4 576.3L752.6 577.3L750.4 577.5L747.4 587.9ZM775.9 611.0L778.5 613.5L781.0 623.5L779.5 630.8L795.8 623.0L817.4 617.0L820.3 613.7L815.3 609.3L804.5 594.7L795.8 599.5L793.9 596.7L779.8 599.5L776.5 610.4ZM779.5 630.8L779.3 631.9L780.1 638.6L784.3 640.3L785.2 647.0L793.5 656.2L794.1 656.5L813.6 651.1L815.3 645.3L825.3 643.6L829.6 641.4L832.0 640.3L832.0 640.3L826.9 630.2L821.9 620.2L821.9 615.2L820.3 613.7L817.4 617.0L795.8 623.0ZM793.6 567.9L792.5 559.1L794.6 549.2L795.9 540.7L798.4 535.9L798.4 535.9L793.4 532.1L792.8 532.9L784.5 534.8L769.5 532.9L767.6 545.1L768.6 558.2L775.2 574.0L775.2 574.6L779.0 574.2L783.0 578.4L782.3 569.3ZM793.4 532.1L791.9 530.9L785.8 525.0L782.1 516.3L771.5 507.3L760.5 500.0L759.2 501.9L756.4 507.5L764.8 524.4L763.0 530.1L769.5 532.9L784.5 534.8L792.8 532.9ZM717.7 545.1L717.9 551.1L718.5 561.6L722.5 573.8L726.3 580.0L735.1 579.2L743.9 578.2L748.7 577.7L747.0 569.5L742.3 568.5L739.5 554.5L737.6 544.1L728.2 546.0L718.1 545.1ZM185.4 441.9L186.6 442.1L193.1 443.0L196.1 443.4L205.6 444.6L209.4 445.1L209.6 443.6L217.6 435.1L230.1 427.6L232.6 421.4L220.1 418.9L221.3 405.1L226.3 392.6L221.3 382.6L208.8 382.6L197.5 402.6L191.3 415.1L186.3 425.1L177.5 427.6L178.8 432.6L187.5 437.6Z"/><path fill="#ffc800" d="M251.8 524.5L252.0 521.9L253.2 510.0L253.5 506.1L254.3 498.1L255.4 486.2L256.6 474.3L257.7 462.4L258.9 450.5L258.9 450.5L253.4 450.0L243.8 449.0L234.3 448.0L224.7 446.9L215.2 445.8L209.4 445.1L205.6 444.6L196.1 443.4L193.1 443.0L188.9 458.3L176.4 464.6L175.4 475.0L180.6 477.0L192.0 487.5L191.0 491.6L202.5 492.7L204.5 505.2L211.8 506.2L218.1 510.4L218.7 515.6L231.6 517.6L232.0 527.0L239.9 524.9ZM232.0 527.0L231.6 517.6L218.7 515.6L218.1 510.4L211.8 506.2L204.5 505.2L201.4 510.4L203.6 513.0L206.6 516.6L209.7 524.9L216.0 537.4L220.2 537.4L222.2 529.1ZM246.4 580.8L246.4 580.8L254.6 581.6L262.9 582.3L263.8 571.9L272.1 572.6L280.3 573.3L288.6 573.9L296.8 574.5L295.4 569.3L305.4 570.0L315.4 570.6L325.3 571.2L330.4 571.4L323.2 558.2L314.9 562.4L311.8 547.8L312.1 540.7L311.8 543.7L306.6 535.3L304.3 533.5L300.3 538.5L300.3 562.8L295.1 554.1L289.9 552.0L286.8 541.6L277.4 540.5L273.2 541.6L273.2 554.1L264.9 549.9L258.7 540.5L255.5 529.1L251.6 537.0L250.6 536.9L249.7 545.7L248.6 557.6L247.4 569.6ZM794.1 656.5L800.2 660.3L805.2 667.0L810.2 677.1L818.6 683.7L825.3 692.1L831.1 694.6L835.7 693.1L837.0 673.7L835.3 657.0L830.3 642.8L829.6 641.4L825.3 643.6L815.3 645.3L813.6 651.1ZM835.7 693.1L838.7 692.1L842.0 687.1L844.5 675.4L843.7 663.7L840.3 650.3L832.0 640.3L829.6 641.4L830.3 642.8L835.3 657.0L837.0 673.7ZM305.5 454.4L310.8 454.7L320.4 455.3L330.0 455.9L330.9 455.9L330.2 443.9L325.2 441.4L322.7 432.6L316.4 423.9L310.2 421.4L300.2 430.1L288.9 435.6L296.4 437.6L302.7 443.9Z"/><path fill="#ff8c00" d="M296.6 453.7L291.7 453.4L282.1 452.6L272.5 451.8L262.9 450.9L258.9 450.5L258.9 450.5L257.7 462.4L256.6 474.3L255.4 486.2L254.3 498.1L253.5 506.1L254.7 506.2L268.0 505.2L270.1 487.5L279.5 485.4L287.8 475.0L295.1 470.8L296.6 454.4ZM253.5 506.1L253.2 510.0L252.0 521.9L251.8 524.5L250.9 533.8L250.6 536.9L251.6 537.0L255.5 529.1L258.7 540.5L264.9 549.9L273.2 554.1L273.2 541.6L277.4 540.5L283.7 531.2L285.7 520.8L282.6 514.5L285.7 508.3L283.7 502.0L289.9 494.7L289.9 487.0L289.9 487.0L279.5 485.4L270.1 487.5L268.0 505.2L254.7 506.2ZM304.3 491.8L293.0 487.5L289.9 487.0L289.9 487.0L289.9 494.7L283.7 502.0L285.7 508.3L282.6 514.5L285.7 520.8L283.7 531.2L277.4 540.5L286.8 541.6L289.9 552.0L295.1 554.1L300.3 562.8L300.3 538.5L304.3 533.5L304.5 533.3L306.6 522.8L300.3 516.6L302.4 504.1L304.4 491.8ZM306.6 522.8L304.5 533.3L304.3 533.5L306.6 535.3L310.7 523.9L312.4 531.6L312.8 522.8ZM312.1 540.7L312.4 531.6L310.7 523.9L306.6 535.3L311.8 543.7ZM312.4 531.6L312.1 540.7L312.8 533.3Z"/><path fill="#00dcff" d="M644.1 362.9L644.1 363.1L645.8 376.5L646.1 378.6L647.6 390.0L647.8 391.2L662.0 391.2L662.8 386.2L660.3 368.6L658.6 359.4L644.9 362.7ZM579.5 389.8L584.9 394.7L592.2 405.6L593.4 405.7L601.3 406.3L602.3 411.8L602.6 412.1L618.5 409.1L620.2 387.0L615.2 381.1L607.6 382.8L598.4 380.3L586.7 386.2L580.5 388.7ZM648.5 407.7L649.8 405.3L647.8 391.2L647.6 390.0L646.1 378.6L645.6 378.6L633.5 381.1L620.2 387.0L618.5 409.1L622.7 414.6L628.5 414.6L629.4 409.6L647.3 407.1ZM624.7 267.8L624.9 267.0L626.7 261.3L628.1 255.5L625.7 250.3L623.6 245.0L620.9 241.9L618.3 239.8L614.7 238.7L609.4 238.2L604.2 236.6L602.6 236.5L602.6 237.0L603.2 250.7L598.8 251.3L599.4 258.8L602.6 260.1L603.8 270.1L613.8 269.1L620.1 270.1ZM602.6 236.5L600.0 236.1L592.5 235.0L584.9 233.9L579.6 229.3L574.7 224.9L571.9 228.0L572.5 243.2L576.3 243.8L576.9 257.5L574.4 258.2L574.4 270.1L577.5 279.4L586.3 280.1L586.6 272.6L603.8 270.1L602.6 260.1L599.4 258.8L598.8 251.3L603.2 250.7L602.6 237.0ZM574.7 224.9L571.1 221.6L565.0 225.3L553.8 228.3L552.6 228.8L549.4 229.9L550.5 243.6L543.5 249.3L541.8 255.3L545.9 259.7L544.9 264.4L561.3 263.2L562.5 270.7L574.4 270.1L574.4 258.2L576.9 257.5L576.3 243.8L572.5 243.2L571.9 228.0ZM544.9 264.4L544.1 268.0L544.6 274.9L549.0 278.8L558.5 282.0L565.0 289.6L572.1 293.7L572.6 297.0L588.2 296.3L586.3 280.1L577.5 279.4L574.4 270.1L562.5 270.7L561.3 263.2ZM511.6 276.1L502.7 271.4L502.3 274.9L501.2 281.6L484.6 281.2L484.4 281.2L484.8 293.4L485.0 297.4L485.3 307.3L494.2 307.0L503.0 306.6L511.6 306.2ZM540.6 274.1L532.2 271.7L511.6 276.1L511.6 306.2L511.8 306.1L517.6 305.8L520.6 305.7L529.4 305.1L538.2 304.5L542.6 304.2ZM532.2 271.7L540.6 274.1L544.4 272.4L544.1 268.0L544.9 264.4L545.9 259.7L541.8 255.3L543.5 249.3L550.5 243.6L549.4 229.9L552.6 228.8L552.0 227.0L537.0 227.4L536.6 222.5L536.6 222.5L525.8 222.9L525.2 228.1L523.5 228.3ZM511.6 276.1L532.2 271.7L523.5 228.3L516.2 229.1L515.4 237.4L511.6 238.5L510.6 230.2L503.7 229.1L503.7 229.1L503.7 232.2L505.4 241.6L504.4 258.3L502.7 271.4ZM540.6 274.1L542.6 304.2L547.0 303.9L551.5 303.5L555.7 303.2L564.5 302.5L573.3 301.7L572.6 297.0L572.1 293.7L565.0 289.6L558.5 282.0L549.0 278.8L544.6 274.9L544.4 272.4ZM468.6 179.2L462.0 179.4L454.3 179.6L446.5 179.7L438.8 179.8L433.3 179.8L434.3 194.8L438.5 195.8L441.6 202.0L447.8 205.2L449.9 210.4L474.3 210.4L472.4 204.3L470.1 191.0ZM433.3 179.8L431.0 179.8L423.3 179.8L415.5 179.8L407.8 179.7L403.8 179.7L404.5 189.6L410.4 190.6L411.4 206.6L417.0 208.3L449.9 210.4L447.8 205.2L441.6 202.0L438.5 195.8L434.3 194.8ZM361.8 201.0L361.3 212.8L361.2 215.8L361.7 215.8L361.7 216.2L378.1 217.7L379.1 226.6L393.3 227.4L411.4 227.0L412.5 221.8L417.0 220.8L417.0 208.3L411.4 206.6L386.4 206.6L381.2 200.0L370.8 199.5L362.5 201.0ZM198.5 242.1L201.1 240.5L205.4 252.4L210.6 262.8L210.8 263.2L215.1 271.9L221.6 271.5L228.1 270.8L236.8 271.9L238.9 268.6L241.5 275.1L242.3 274.9L242.4 274.5L243.7 262.9L243.9 262.9L245.2 253.2L248.3 244.9L250.4 235.5L243.1 234.1L238.9 239.7L236.2 236.6L234.8 225.1L228.5 222.0L224.4 228.3L218.1 233.5L208.7 238.7L200.4 239.7ZM154.4 202.2L154.2 203.7L152.0 215.8L152.1 224.1L153.6 224.1L156.6 230.3L162.4 239.1L164.5 229.3L171.1 230.3L178.0 224.1L172.8 209.1L166.6 211.6L160.3 203.3L155.1 202.3L154.5 202.2ZM388.3 426.6L388.4 423.5L388.7 412.0L388.7 408.6L388.9 400.5L389.2 389.0L389.4 377.4L389.7 365.9L382.8 365.7L382.8 366.6L372.7 371.3L370.2 380.1L366.5 395.1L360.2 402.6L372.7 410.1L381.5 415.1L384.0 422.6ZM232.9 355.0L241.6 356.0L250.3 356.9L259.0 357.8L267.7 358.7L276.4 359.5L285.1 360.3L293.8 361.0L301.8 361.6L301.8 361.2L296.2 353.9L292.0 348.7L283.7 342.4L275.4 336.2L272.2 327.9L273.3 321.6L268.1 313.3L260.8 302.9L254.5 302.5L247.3 310.2L243.1 312.3L238.1 320.6L237.0 320.5L237.0 320.6L235.6 332.1L234.3 343.5ZM330.9 363.5L337.3 363.9L346.0 364.3L354.8 364.7L355.3 353.1L355.8 341.5L356.1 334.1L346.1 327.9L335.7 323.7L323.2 318.7L326.4 327.9L329.5 338.3L330.9 363.3ZM349.7 271.7L342.3 271.3L334.1 270.8L325.8 270.3L323.2 270.2L317.6 269.8L309.4 269.2L301.2 268.6L298.8 268.4L298.7 269.6L299.3 275.8L305.5 284.1L307.0 296.6L303.5 304.5L303.5 312.3L298.3 320.0L306.6 317.5L314.9 317.0L323.2 318.7L324.3 313.3L323.2 307.0L327.4 301.8L328.4 296.6L331.6 288.3L335.7 282.1L343.0 278.9L349.7 272.3ZM454.5 348.4L454.4 348.4L421.8 349.2L421.8 356.4L421.8 372.6L435.2 373.1L443.5 371.8L455.1 371.0L455.0 354.3L454.9 348.4ZM389.2 389.0L388.9 400.5L388.7 408.6L390.0 408.6L433.5 407.3L433.9 407.2L433.5 389.3L425.9 389.4L422.6 389.4L416.7 389.3L407.6 389.3L398.4 389.1ZM388.7 408.6L388.7 412.0L388.4 423.5L388.3 426.6L390.0 428.1L389.7 429.5L429.3 428.7L434.4 427.0L433.9 407.2L433.5 407.3L390.0 408.6ZM388.3 426.6L388.1 435.1L387.9 446.6L387.6 458.1L397.4 458.3L407.2 458.4L417.0 458.5L426.8 458.5L435.2 458.5L435.2 458.4L434.4 427.0L429.3 428.7L389.7 429.5L390.0 428.1ZM522.0 407.8L522.0 407.5L516.5 402.0L512.7 397.6L516.0 392.8L508.7 387.4L499.5 387.8L490.3 388.2L481.1 388.5L481.0 388.5L481.0 389.0L480.3 406.1L487.0 408.6L497.1 406.9L507.1 408.6L513.8 409.4ZM480.3 406.1L473.7 406.9L472.8 409.4L463.6 409.4L461.9 402.7L452.7 403.6L433.9 407.2L434.4 427.0L443.5 427.0L445.2 429.5L455.3 431.2L478.7 430.3L484.5 430.7L484.5 430.3ZM552.7 371.2L544.0 371.9L535.2 372.4L526.3 373.0L521.5 373.3L517.5 373.5L508.6 374.0L500.0 374.4L503.9 380.7L508.7 387.4L516.0 392.8L512.7 397.6L516.5 402.0L522.0 407.5L522.0 407.8L522.2 410.4L522.3 410.4L530.2 408.7L546.9 405.4L551.9 404.6L558.6 405.4L555.3 397.0L551.9 383.7L552.7 371.3ZM494.5 353.5L496.3 359.0L497.9 364.7L498.7 368.7L499.7 373.9L500.0 374.4L508.6 374.0L517.5 373.5L521.5 373.3L521.5 373.1L521.8 356.1L523.4 350.5L523.5 350.2L523.5 349.2ZM523.5 349.2L524.3 335.2L521.0 329.3L519.3 326.0L519.3 325.9L517.6 326.0L485.2 328.1L486.2 330.5L489.0 337.3L492.9 348.8L493.6 350.7L494.5 353.5ZM521.5 373.3L526.3 373.0L535.2 372.4L544.0 371.9L552.7 371.2L552.9 371.2L553.6 371.2L553.6 356.9L549.4 356.1L548.6 349.9L523.4 350.5L521.8 356.1L521.5 373.1ZM580.7 351.0L580.7 349.4L588.7 346.3L594.7 338.0L593.7 331.8L588.8 327.3L587.4 328.8L557.5 330.7L557.8 331.0L558.6 348.2L558.6 348.2L573.7 348.5L580.7 351.0ZM588.8 327.3L585.1 323.9L575.5 312.0L573.3 301.7L564.5 302.5L555.7 303.2L551.5 303.5L551.6 303.9L552.7 325.1L557.5 330.7L587.4 328.8ZM551.5 303.5L547.0 303.9L538.2 304.5L529.4 305.1L520.6 305.7L517.6 305.8L519.3 325.9L552.7 325.1L551.6 303.9ZM517.6 305.8L511.8 306.1L503.0 306.6L494.2 307.0L485.3 307.3L483.8 312.0L485.7 316.6L483.4 323.6L485.2 328.1L517.6 326.0L519.3 325.9ZM552.7 325.1L519.3 325.9L519.3 326.0L521.0 329.3L524.3 335.2L523.5 350.2L523.4 350.5L548.6 349.9L558.5 348.2L558.6 348.2L557.8 331.0L557.5 330.7L553.6 331.0ZM552.7 325.1L553.6 331.0L557.5 330.7Z"/><path fill="none" d="M41.6 203.3L39.6 217.8L33.7 238.7L29.1 253.2L22.9 269.9L19.8 286.6L20.8 293.8M113.5 431.6L118.7 429.5L129.1 444.1L135.3 446.1L134.3 454.5L138.4 454.5L137.4 444.1L145.7 439.9L146.8 429.5L152.0 431.6L154.1 435.7L160.3 427.4L161.3 435.7L167.6 435.7M42.7 129.4L47.5 129.0L73.0 136.7L72.2 147.6L68.6 150.1L62.0 148.3L51.1 141.8L45.3 139.6L43.1 135.9L42.7 129.4M54.8 152.7L56.2 157.0L59.9 160.7L61.3 164.3L60.6 168.0L57.7 173.1L54.8 177.4L53.7 181.8L53.3 189.5M62.0 154.9L65.0 157.8L68.6 162.9L67.1 167.2L63.5 170.2L62.0 172.3L65.0 173.1L63.5 176.0L62.0 178.9L59.9 182.5L59.9 186.2L62.0 188.4L69.3 183.3L75.9 178.9L78.8 172.3L81.0 164.3L81.7 162.9M82.4 139.6L83.5 146.9L83.2 152.7L81.7 159.2L81.7 162.9L84.6 168.7L83.5 174.5L82.4 180.4L81.7 189.5M91.5 142.1L89.0 146.9L88.3 149.8L96.3 149.0L98.5 150.1L95.5 154.1L89.0 160.0L90.4 162.9L87.5 165.8L90.4 170.2L89.0 171.3L85.3 168.7M69.3 157.0L72.2 159.2L70.0 162.9L73.0 165.8L70.8 168.7L68.6 171.6L71.5 174.5L67.1 177.4L65.7 180.4M75.9 148.3L77.7 150.5L76.2 152.0M76.6 156.3L78.4 159.2L77.0 160.7M854.2 387.6L848.5 385.5L843.4 383.0L839.3 381.4M855.7 393.7L850.6 391.7L845.5 388.8M856.7 400.9L851.6 399.4L846.5 397.8L841.4 398.8L837.3 396.8M848.0 361.0L847.0 364.0L848.8 366.1M849.4 353.8L850.6 356.9L849.6 359.4M19.8 381.6L17.7 387.8L20.8 394.1L25.0 398.3L26.0 392.0L22.9 387.8L21.9 382.6M876.2 320.0L875.2 330.2L873.6 340.5L871.3 348.9M866.0 407.4L872.4 418.3L879.2 427.9M866.9 414.9L870.1 420.1L876.5 427.9"/><g fill="#ffc800" stroke-width="1"><ellipse cx="816.1" cy="697.1" rx="2.6" ry="1" transform="rotate(-5 816.1 697.1)"/><ellipse cx="825.3" cy="697.1" rx="2.6" ry="1" transform="rotate(-8 825.3 697.1)"/><ellipse cx="831.1" cy="695.5" rx="2.6" ry="1" transform="rotate(-25 831.1 695.5)"/><ellipse cx="837.0" cy="692.9" rx="2.6" ry="1" transform="rotate(-35 837.0 692.9)"/><ellipse cx="842.0" cy="689.6" rx="2.6" ry="1" transform="rotate(-55 842.0 689.6)"/><ellipse cx="844.5" cy="684.6" rx="2.6" ry="1" transform="rotate(-75 844.5 684.6)"/></g></g>
<text x="633" y="779.3" font-size="18.4" textLength="247" lengthAdjust="spacing" stroke="#000" stroke-width="0.4">NOAA PSL and CIRES−CU</text>
<g stroke="#000" stroke-width="1.3"><rect x="10.90" y="789" width="62.67" height="55.2" fill="#001eff"/><rect x="73.57" y="789" width="62.67" height="55.2" fill="#0060ff"/><rect x="136.24" y="789" width="62.67" height="55.2" fill="#00a0ff"/><rect x="198.91" y="789" width="62.67" height="55.2" fill="#00dcff"/><rect x="261.58" y="789" width="62.67" height="55.2" fill="#14ffeb"/><rect x="324.25" y="789" width="62.67" height="55.2" fill="#50ffb4"/><rect x="386.92" y="789" width="62.67" height="55.2" fill="#8cff78"/><rect x="449.59" y="789" width="62.67" height="55.2" fill="#ffffff"/><rect x="512.26" y="789" width="62.67" height="55.2" fill="#ffff14"/><rect x="574.93" y="789" width="62.67" height="55.2" fill="#ffc800"/><rect x="637.60" y="789" width="62.67" height="55.2" fill="#ff8c00"/><rect x="700.27" y="789" width="62.67" height="55.2" fill="#ff5000"/><rect x="762.94" y="789" width="62.67" height="55.2" fill="#ff1900"/><rect x="825.61" y="789" width="62.67" height="55.2" fill="#dc0000"/><rect x="888.28" y="789" width="62.67" height="55.2" fill="#8c0000"/></g>
<g font-size="33"><text x="42.6" y="877" textLength="80.8" lengthAdjust="spacing">−6.0</text><text x="167.9" y="877" textLength="80.8" lengthAdjust="spacing">−4.0</text><text x="293.3" y="877" textLength="80.8" lengthAdjust="spacing">−2.0</text><text x="440.1" y="877" textLength="53.7" lengthAdjust="spacing">0.0</text><text x="565.4" y="877" textLength="53.7" lengthAdjust="spacing">2.0</text><text x="690.8" y="877" textLength="53.7" lengthAdjust="spacing">4.0</text><text x="816.1" y="877" textLength="53.7" lengthAdjust="spacing">6.0</text></g>
</svg>
</body></html>
